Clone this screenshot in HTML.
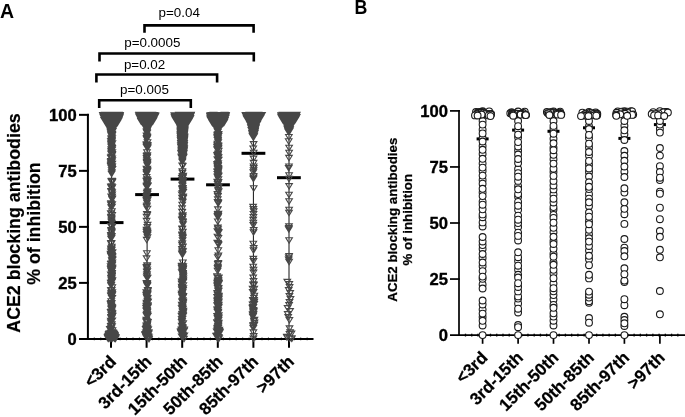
<!DOCTYPE html>
<html><head><meta charset="utf-8"><style>
html,body{margin:0;padding:0;background:#fff;width:685px;height:417px;overflow:hidden}
svg{display:block}
text{font-family:"Liberation Sans",sans-serif}
svg{will-change:transform}
</style></head><body>
<svg width="685" height="417" viewBox="0 0 685 417">
<rect width="685" height="417" fill="#fff"/>
<text x="0" y="17.8" font-size="19.5" font-weight="bold">A</text>
<text transform="translate(354.5 14.2) scale(0.9 1)" font-size="19.8" font-weight="bold">B</text>
<g fill="none" stroke="#000" stroke-width="2.6" stroke-linejoin="miter" stroke-linecap="butt">
<path d="M144.5 32.7V25.4H253.6V32.7"/>
<path d="M99.5 61.6V53.5H253.8V61.6"/>
<path d="M96.4 82.4V74.5H217.1V82.4"/>
<path d="M99.2 107.9V100.3H190.8V107.9"/>
</g>
<g font-size="13.4">
<text x="158.5" y="17">p=0.04</text>
<text x="124.2" y="46.6">p=0.0005</text>
<text x="123.9" y="68.6">p=0.02</text>
<text x="120.1" y="94">p=0.005</text>
</g>
<g stroke="#000" stroke-width="2">
<line x1="87.9" y1="113.85" x2="87.9" y2="339.9"/>
<line x1="79" y1="338.9" x2="313.5" y2="338.9"/>
<line x1="79" y1="282.89" x2="88.9" y2="282.89"/><line x1="79" y1="226.87" x2="88.9" y2="226.87"/><line x1="79" y1="170.86" x2="88.9" y2="170.86"/><line x1="79" y1="114.85" x2="88.9" y2="114.85"/>
<line x1="111.0" y1="338.9" x2="111.0" y2="347.8"/><line x1="146.6" y1="338.9" x2="146.6" y2="347.8"/><line x1="182.2" y1="338.9" x2="182.2" y2="347.8"/><line x1="217.8" y1="338.9" x2="217.8" y2="347.8"/><line x1="253.4" y1="338.9" x2="253.4" y2="347.8"/><line x1="289.0" y1="338.9" x2="289.0" y2="347.8"/>
</g>
<g font-size="16.6" font-weight="bold" stroke="#000" stroke-width="0.35" text-anchor="end">
<text x="76.8" y="345.4">0</text><text x="76.8" y="289.4">25</text><text x="76.8" y="233.4">50</text><text x="76.8" y="177.4">75</text><text x="76.8" y="121.3">100</text>
</g>
<g font-size="17.8" font-weight="bold" stroke="#000" stroke-width="0.2" text-anchor="middle">
<text transform="translate(20.3 223) rotate(-90)">ACE2 blocking antibodies</text>
<text transform="translate(40.3 223.6) rotate(-90)">% of inhibition</text>
</g>
<g font-size="17" font-weight="bold" stroke="#000" stroke-width="0.25" text-anchor="end">
<text transform="translate(117.0 362.6) rotate(-45)">&lt;3rd</text><text transform="translate(152.6 362.6) rotate(-45)">3rd-15th</text><text transform="translate(188.2 362.6) rotate(-45)">15th-50th</text><text transform="translate(223.8 362.6) rotate(-45)">50th-85th</text><text transform="translate(259.4 362.6) rotate(-45)">85th-97th</text><text transform="translate(295.0 362.6) rotate(-45)">&gt;97th</text>
</g>
<g stroke="#000" stroke-width="1.7">
<line x1="459" y1="110.05" x2="459" y2="335.9"/>
<line x1="450" y1="335.1" x2="685" y2="335.1"/>
<line x1="450" y1="279.05" x2="459.8" y2="279.05"/><line x1="450" y1="223.00" x2="459.8" y2="223.00"/><line x1="450" y1="166.95" x2="459.8" y2="166.95"/><line x1="450" y1="110.90" x2="459.8" y2="110.90"/>
<line x1="482.6" y1="335.1" x2="482.6" y2="343.8"/><line x1="518.1" y1="335.1" x2="518.1" y2="343.8"/><line x1="553.5" y1="335.1" x2="553.5" y2="343.8"/><line x1="589.0" y1="335.1" x2="589.0" y2="343.8"/><line x1="624.4" y1="335.1" x2="624.4" y2="343.8"/><line x1="659.9" y1="335.1" x2="659.9" y2="343.8"/>
</g>
<g font-size="16.6" font-weight="bold" stroke="#000" stroke-width="0.35" text-anchor="end">
<text x="447.9" y="341.4">0</text><text x="447.9" y="285.4">25</text><text x="447.9" y="229.3">50</text><text x="447.9" y="173.3">75</text><text x="447.9" y="117.2">100</text>
</g>
<g font-size="13.3" font-weight="bold" stroke="#000" stroke-width="0.25" text-anchor="middle">
<text transform="translate(397.3 219.7) rotate(-90)">ACE2 blocking antibodies</text>
<text transform="translate(412.3 219.7) rotate(-90)">% of inhibition</text>
</g>
<g font-size="17" font-weight="bold" stroke="#000" stroke-width="0.25" text-anchor="end">
<text transform="translate(488.6 358.6) rotate(-45)">&lt;3rd</text><text transform="translate(524.1 358.6) rotate(-45)">3rd-15th</text><text transform="translate(559.5 358.6) rotate(-45)">15th-50th</text><text transform="translate(595.0 358.6) rotate(-45)">50th-85th</text><text transform="translate(630.4 358.6) rotate(-45)">85th-97th</text><text transform="translate(665.9 358.6) rotate(-45)">&gt;97th</text>
</g>
<g fill="#000">
<rect x="93.75" y="337.60" width="1.1" height="2.6"/><rect x="100.20" y="337.60" width="1.1" height="2.6"/><rect x="106.65" y="337.60" width="1.1" height="2.6"/><rect x="113.10" y="337.60" width="1.1" height="2.6"/><rect x="119.55" y="337.60" width="1.1" height="2.6"/><rect x="126.00" y="337.60" width="1.1" height="2.6"/><rect x="132.45" y="337.60" width="1.1" height="2.6"/><rect x="138.90" y="337.60" width="1.1" height="2.6"/><rect x="145.35" y="337.60" width="1.1" height="2.6"/><rect x="151.80" y="337.60" width="1.1" height="2.6"/><rect x="158.25" y="337.60" width="1.1" height="2.6"/><rect x="164.70" y="337.60" width="1.1" height="2.6"/><rect x="171.15" y="337.60" width="1.1" height="2.6"/><rect x="177.60" y="337.60" width="1.1" height="2.6"/><rect x="184.05" y="337.60" width="1.1" height="2.6"/><rect x="190.50" y="337.60" width="1.1" height="2.6"/><rect x="196.95" y="337.60" width="1.1" height="2.6"/><rect x="203.40" y="337.60" width="1.1" height="2.6"/><rect x="209.85" y="337.60" width="1.1" height="2.6"/><rect x="216.30" y="337.60" width="1.1" height="2.6"/><rect x="222.75" y="337.60" width="1.1" height="2.6"/><rect x="229.20" y="337.60" width="1.1" height="2.6"/><rect x="235.65" y="337.60" width="1.1" height="2.6"/><rect x="242.10" y="337.60" width="1.1" height="2.6"/><rect x="248.55" y="337.60" width="1.1" height="2.6"/><rect x="255.00" y="337.60" width="1.1" height="2.6"/><rect x="261.45" y="337.60" width="1.1" height="2.6"/><rect x="267.90" y="337.60" width="1.1" height="2.6"/><rect x="274.35" y="337.60" width="1.1" height="2.6"/><rect x="280.80" y="337.60" width="1.1" height="2.6"/><rect x="287.25" y="337.60" width="1.1" height="2.6"/><rect x="293.70" y="337.60" width="1.1" height="2.6"/><rect x="300.15" y="337.60" width="1.1" height="2.6"/><rect x="306.60" y="337.60" width="1.1" height="2.6"/>
<rect x="464.85" y="333.70" width="1.3" height="2.8"/><rect x="471.10" y="333.70" width="1.3" height="2.8"/><rect x="477.34" y="333.70" width="1.3" height="2.8"/><rect x="483.59" y="333.70" width="1.3" height="2.8"/><rect x="489.83" y="333.70" width="1.3" height="2.8"/><rect x="496.08" y="333.70" width="1.3" height="2.8"/><rect x="502.32" y="333.70" width="1.3" height="2.8"/><rect x="508.57" y="333.70" width="1.3" height="2.8"/><rect x="514.81" y="333.70" width="1.3" height="2.8"/><rect x="521.06" y="333.70" width="1.3" height="2.8"/><rect x="527.30" y="333.70" width="1.3" height="2.8"/><rect x="533.55" y="333.70" width="1.3" height="2.8"/><rect x="539.79" y="333.70" width="1.3" height="2.8"/><rect x="546.03" y="333.70" width="1.3" height="2.8"/><rect x="552.28" y="333.70" width="1.3" height="2.8"/><rect x="558.52" y="333.70" width="1.3" height="2.8"/><rect x="564.77" y="333.70" width="1.3" height="2.8"/><rect x="571.01" y="333.70" width="1.3" height="2.8"/><rect x="577.26" y="333.70" width="1.3" height="2.8"/><rect x="583.50" y="333.70" width="1.3" height="2.8"/><rect x="589.75" y="333.70" width="1.3" height="2.8"/><rect x="596.00" y="333.70" width="1.3" height="2.8"/><rect x="602.24" y="333.70" width="1.3" height="2.8"/><rect x="608.49" y="333.70" width="1.3" height="2.8"/><rect x="614.73" y="333.70" width="1.3" height="2.8"/><rect x="620.98" y="333.70" width="1.3" height="2.8"/><rect x="627.22" y="333.70" width="1.3" height="2.8"/><rect x="633.47" y="333.70" width="1.3" height="2.8"/><rect x="639.71" y="333.70" width="1.3" height="2.8"/><rect x="645.96" y="333.70" width="1.3" height="2.8"/><rect x="652.20" y="333.70" width="1.3" height="2.8"/><rect x="658.45" y="333.70" width="1.3" height="2.8"/><rect x="664.69" y="333.70" width="1.3" height="2.8"/><rect x="670.94" y="333.70" width="1.3" height="2.8"/><rect x="677.18" y="333.70" width="1.3" height="2.8"/>
</g>
<rect x="99.70" y="221.1" width="23.8" height="3" fill="#000"/>
<line x1="111.6" y1="114.7" x2="111.6" y2="338.8" stroke="#111" stroke-width="1"/>
<path d="M107.7 211.2h6.6l-3.3 5.4zM103.6 119.5h6.6l-3.3 5.4zM111.7 114.4h6.6l-3.3 5.4zM111.8 115.1h6.6l-3.3 5.4zM107.6 202.0h6.6l-3.3 5.4zM111.2 123.5h6.6l-3.3 5.4zM110.8 121.2h6.6l-3.3 5.4zM108.6 310.3h6.6l-3.3 5.4zM109.1 313.0h6.6l-3.3 5.4zM110.1 332.4h6.6l-3.3 5.4zM108.1 128.1h6.6l-3.3 5.4zM107.6 249.0h6.6l-3.3 5.4zM103.4 115.8h6.6l-3.3 5.4zM105.5 331.5h6.6l-3.3 5.4zM103.4 115.4h6.6l-3.3 5.4zM108.4 291.7h6.6l-3.3 5.4zM108.4 267.2h6.6l-3.3 5.4zM100.7 115.8h6.6l-3.3 5.4zM108.0 194.1h6.6l-3.3 5.4zM107.5 155.2h6.6l-3.3 5.4zM107.9 261.1h6.6l-3.3 5.4zM107.5 160.1h6.6l-3.3 5.4zM109.0 289.9h6.6l-3.3 5.4zM107.8 283.0h6.6l-3.3 5.4zM105.9 113.8h6.6l-3.3 5.4zM109.0 318.1h6.6l-3.3 5.4zM109.2 313.5h6.6l-3.3 5.4zM104.9 114.0h6.6l-3.3 5.4zM108.4 178.8h6.6l-3.3 5.4zM106.5 122.3h6.6l-3.3 5.4zM108.5 295.5h6.6l-3.3 5.4zM110.6 125.2h6.6l-3.3 5.4zM108.9 192.1h6.6l-3.3 5.4zM108.4 165.7h6.6l-3.3 5.4zM102.7 112.8h6.6l-3.3 5.4zM108.5 272.2h6.6l-3.3 5.4zM108.6 272.3h6.6l-3.3 5.4zM106.4 124.0h6.6l-3.3 5.4zM108.0 312.4h6.6l-3.3 5.4zM107.9 282.2h6.6l-3.3 5.4zM108.0 141.6h6.6l-3.3 5.4zM108.3 150.7h6.6l-3.3 5.4zM108.3 329.9h6.6l-3.3 5.4zM109.0 267.1h6.6l-3.3 5.4zM108.2 252.8h6.6l-3.3 5.4zM107.3 128.4h6.6l-3.3 5.4zM107.8 291.1h6.6l-3.3 5.4zM109.0 256.4h6.6l-3.3 5.4zM116.1 115.1h6.6l-3.3 5.4zM109.2 113.1h6.6l-3.3 5.4zM116.6 113.8h6.6l-3.3 5.4zM103.5 121.5h6.6l-3.3 5.4zM107.6 120.0h6.6l-3.3 5.4zM107.8 215.1h6.6l-3.3 5.4zM108.6 307.4h6.6l-3.3 5.4zM108.5 116.6h6.6l-3.3 5.4zM108.2 275.7h6.6l-3.3 5.4zM115.2 113.7h6.6l-3.3 5.4zM107.0 116.6h6.6l-3.3 5.4zM108.6 273.5h6.6l-3.3 5.4zM100.1 114.4h6.6l-3.3 5.4zM107.9 325.7h6.6l-3.3 5.4zM108.3 287.6h6.6l-3.3 5.4zM108.7 114.6h6.6l-3.3 5.4zM107.6 184.2h6.6l-3.3 5.4zM107.4 263.7h6.6l-3.3 5.4zM107.4 252.1h6.6l-3.3 5.4zM108.3 147.1h6.6l-3.3 5.4zM106.4 126.4h6.6l-3.3 5.4zM108.1 129.3h6.6l-3.3 5.4zM111.3 116.6h6.6l-3.3 5.4zM107.8 315.0h6.6l-3.3 5.4zM108.2 249.8h6.6l-3.3 5.4zM108.8 145.8h6.6l-3.3 5.4zM109.0 332.0h6.6l-3.3 5.4zM107.5 336.3h6.6l-3.3 5.4zM101.4 113.4h6.6l-3.3 5.4zM106.9 121.7h6.6l-3.3 5.4zM115.4 117.6h6.6l-3.3 5.4zM109.8 126.6h6.6l-3.3 5.4zM108.0 141.9h6.6l-3.3 5.4zM109.7 115.1h6.6l-3.3 5.4zM109.0 284.7h6.6l-3.3 5.4zM110.9 120.5h6.6l-3.3 5.4zM108.5 274.2h6.6l-3.3 5.4zM108.2 304.4h6.6l-3.3 5.4zM110.7 118.3h6.6l-3.3 5.4zM107.8 164.0h6.6l-3.3 5.4zM108.1 119.8h6.6l-3.3 5.4zM107.9 309.6h6.6l-3.3 5.4zM108.9 289.9h6.6l-3.3 5.4zM108.7 279.4h6.6l-3.3 5.4zM107.8 268.3h6.6l-3.3 5.4zM106.3 125.7h6.6l-3.3 5.4zM108.9 132.5h6.6l-3.3 5.4zM108.1 154.6h6.6l-3.3 5.4zM108.5 274.3h6.6l-3.3 5.4zM108.5 313.0h6.6l-3.3 5.4zM109.3 126.0h6.6l-3.3 5.4zM111.6 333.5h6.6l-3.3 5.4zM116.0 115.8h6.6l-3.3 5.4zM107.8 323.3h6.6l-3.3 5.4zM108.7 114.2h6.6l-3.3 5.4zM110.7 333.6h6.6l-3.3 5.4zM107.7 163.7h6.6l-3.3 5.4zM108.5 244.2h6.6l-3.3 5.4zM108.4 167.7h6.6l-3.3 5.4zM108.4 229.2h6.6l-3.3 5.4zM108.6 178.2h6.6l-3.3 5.4zM113.1 114.0h6.6l-3.3 5.4zM102.8 119.6h6.6l-3.3 5.4zM108.4 273.0h6.6l-3.3 5.4zM107.6 232.6h6.6l-3.3 5.4zM109.6 121.6h6.6l-3.3 5.4zM108.8 196.9h6.6l-3.3 5.4zM108.8 151.6h6.6l-3.3 5.4zM108.2 275.9h6.6l-3.3 5.4zM105.7 113.5h6.6l-3.3 5.4zM109.8 330.0h6.6l-3.3 5.4zM108.3 147.6h6.6l-3.3 5.4zM102.3 115.9h6.6l-3.3 5.4zM111.0 124.3h6.6l-3.3 5.4zM109.0 161.2h6.6l-3.3 5.4zM104.9 115.3h6.6l-3.3 5.4zM108.9 212.5h6.6l-3.3 5.4zM109.0 254.5h6.6l-3.3 5.4zM108.0 146.7h6.6l-3.3 5.4zM114.7 116.3h6.6l-3.3 5.4zM109.0 166.9h6.6l-3.3 5.4zM107.6 127.9h6.6l-3.3 5.4zM112.1 120.5h6.6l-3.3 5.4zM108.7 131.2h6.6l-3.3 5.4zM105.1 119.7h6.6l-3.3 5.4zM107.6 117.9h6.6l-3.3 5.4zM101.7 114.1h6.6l-3.3 5.4zM107.9 140.9h6.6l-3.3 5.4zM107.9 159.4h6.6l-3.3 5.4zM103.9 122.4h6.6l-3.3 5.4zM107.8 236.4h6.6l-3.3 5.4zM108.0 266.0h6.6l-3.3 5.4zM108.3 171.2h6.6l-3.3 5.4zM106.6 116.1h6.6l-3.3 5.4zM107.5 266.7h6.6l-3.3 5.4zM108.8 270.8h6.6l-3.3 5.4zM107.8 202.4h6.6l-3.3 5.4zM109.0 120.7h6.6l-3.3 5.4zM106.1 330.7h6.6l-3.3 5.4zM105.5 116.9h6.6l-3.3 5.4zM107.8 155.7h6.6l-3.3 5.4zM107.8 148.9h6.6l-3.3 5.4zM113.5 120.9h6.6l-3.3 5.4zM107.7 200.9h6.6l-3.3 5.4zM107.8 121.2h6.6l-3.3 5.4zM114.0 116.8h6.6l-3.3 5.4zM108.7 120.2h6.6l-3.3 5.4zM99.6 112.5h6.6l-3.3 5.4zM108.3 117.2h6.6l-3.3 5.4zM107.7 130.4h6.6l-3.3 5.4zM109.1 253.6h6.6l-3.3 5.4zM108.2 316.0h6.6l-3.3 5.4zM106.9 119.4h6.6l-3.3 5.4zM107.9 154.4h6.6l-3.3 5.4zM104.1 117.5h6.6l-3.3 5.4zM104.1 112.3h6.6l-3.3 5.4zM109.0 249.7h6.6l-3.3 5.4zM108.1 306.6h6.6l-3.3 5.4zM108.4 125.7h6.6l-3.3 5.4zM108.3 277.8h6.6l-3.3 5.4zM107.5 333.9h6.6l-3.3 5.4zM107.5 125.2h6.6l-3.3 5.4zM106.1 333.9h6.6l-3.3 5.4zM109.9 119.1h6.6l-3.3 5.4zM108.9 151.7h6.6l-3.3 5.4zM105.4 121.5h6.6l-3.3 5.4zM106.5 114.9h6.6l-3.3 5.4zM108.2 115.8h6.6l-3.3 5.4zM108.6 131.8h6.6l-3.3 5.4zM108.1 252.6h6.6l-3.3 5.4zM110.5 113.7h6.6l-3.3 5.4zM107.8 253.9h6.6l-3.3 5.4zM104.0 120.1h6.6l-3.3 5.4zM110.7 334.5h6.6l-3.3 5.4zM107.8 227.6h6.6l-3.3 5.4zM102.8 120.0h6.6l-3.3 5.4zM108.5 233.5h6.6l-3.3 5.4zM107.5 251.4h6.6l-3.3 5.4zM107.6 123.9h6.6l-3.3 5.4zM108.3 290.3h6.6l-3.3 5.4zM107.7 161.8h6.6l-3.3 5.4zM106.7 332.3h6.6l-3.3 5.4zM102.1 116.7h6.6l-3.3 5.4zM108.4 293.7h6.6l-3.3 5.4zM113.9 112.6h6.6l-3.3 5.4zM109.0 178.6h6.6l-3.3 5.4zM108.9 224.3h6.6l-3.3 5.4zM108.8 194.3h6.6l-3.3 5.4zM106.4 112.6h6.6l-3.3 5.4zM100.0 113.3h6.6l-3.3 5.4zM108.0 314.6h6.6l-3.3 5.4zM107.8 302.3h6.6l-3.3 5.4zM110.8 335.6h6.6l-3.3 5.4zM108.3 118.6h6.6l-3.3 5.4zM108.8 145.5h6.6l-3.3 5.4zM112.1 336.2h6.6l-3.3 5.4zM108.4 144.9h6.6l-3.3 5.4zM107.7 210.7h6.6l-3.3 5.4zM108.4 292.9h6.6l-3.3 5.4zM110.0 122.6h6.6l-3.3 5.4zM107.3 129.4h6.6l-3.3 5.4zM108.3 264.9h6.6l-3.3 5.4zM108.4 122.4h6.6l-3.3 5.4zM108.7 149.9h6.6l-3.3 5.4zM112.3 121.0h6.6l-3.3 5.4zM107.9 330.7h6.6l-3.3 5.4zM108.6 123.5h6.6l-3.3 5.4zM107.5 301.9h6.6l-3.3 5.4zM108.4 127.0h6.6l-3.3 5.4zM108.6 305.2h6.6l-3.3 5.4zM107.6 211.1h6.6l-3.3 5.4zM108.2 217.4h6.6l-3.3 5.4zM101.4 117.9h6.6l-3.3 5.4zM107.9 288.0h6.6l-3.3 5.4zM107.0 333.2h6.6l-3.3 5.4zM108.5 152.2h6.6l-3.3 5.4zM111.4 117.5h6.6l-3.3 5.4zM109.0 123.2h6.6l-3.3 5.4zM107.4 331.6h6.6l-3.3 5.4zM110.3 112.7h6.6l-3.3 5.4zM107.5 163.4h6.6l-3.3 5.4zM108.9 201.9h6.6l-3.3 5.4zM108.5 258.0h6.6l-3.3 5.4zM109.1 257.5h6.6l-3.3 5.4zM103.6 114.9h6.6l-3.3 5.4zM108.4 268.6h6.6l-3.3 5.4zM107.9 151.3h6.6l-3.3 5.4zM109.0 157.9h6.6l-3.3 5.4zM107.4 309.8h6.6l-3.3 5.4zM107.8 211.3h6.6l-3.3 5.4zM109.1 260.0h6.6l-3.3 5.4zM108.0 188.6h6.6l-3.3 5.4zM102.0 118.8h6.6l-3.3 5.4zM114.1 115.6h6.6l-3.3 5.4zM108.3 235.4h6.6l-3.3 5.4zM108.5 321.9h6.6l-3.3 5.4zM109.1 277.9h6.6l-3.3 5.4zM107.5 113.0h6.6l-3.3 5.4zM108.1 309.1h6.6l-3.3 5.4zM108.6 304.8h6.6l-3.3 5.4zM104.7 123.8h6.6l-3.3 5.4zM108.3 300.6h6.6l-3.3 5.4zM108.5 136.5h6.6l-3.3 5.4zM109.1 118.3h6.6l-3.3 5.4zM107.0 115.6h6.6l-3.3 5.4zM108.3 279.2h6.6l-3.3 5.4zM108.0 135.7h6.6l-3.3 5.4zM112.7 118.8h6.6l-3.3 5.4zM107.9 303.2h6.6l-3.3 5.4zM107.8 215.4h6.6l-3.3 5.4zM110.9 113.1h6.6l-3.3 5.4zM109.8 124.2h6.6l-3.3 5.4zM107.7 335.6h6.6l-3.3 5.4zM108.2 136.9h6.6l-3.3 5.4zM115.4 113.4h6.6l-3.3 5.4zM108.0 247.7h6.6l-3.3 5.4zM109.1 140.9h6.6l-3.3 5.4zM101.2 116.9h6.6l-3.3 5.4zM112.9 121.5h6.6l-3.3 5.4zM114.1 120.2h6.6l-3.3 5.4zM108.4 186.0h6.6l-3.3 5.4zM107.6 241.1h6.6l-3.3 5.4zM110.0 119.5h6.6l-3.3 5.4zM108.0 126.0h6.6l-3.3 5.4zM107.6 320.1h6.6l-3.3 5.4zM114.4 114.9h6.6l-3.3 5.4zM113.4 113.2h6.6l-3.3 5.4zM112.4 335.3h6.6l-3.3 5.4zM108.5 270.5h6.6l-3.3 5.4zM108.2 277.0h6.6l-3.3 5.4zM109.2 250.1h6.6l-3.3 5.4zM108.1 228.5h6.6l-3.3 5.4zM107.6 293.2h6.6l-3.3 5.4zM110.2 330.6h6.6l-3.3 5.4zM111.7 115.8h6.6l-3.3 5.4zM106.6 326.9h6.6l-3.3 5.4zM115.6 116.9h6.6l-3.3 5.4zM108.3 240.7h6.6l-3.3 5.4zM108.9 196.1h6.6l-3.3 5.4zM112.8 116.8h6.6l-3.3 5.4zM109.1 292.0h6.6l-3.3 5.4zM107.5 163.2h6.6l-3.3 5.4zM106.9 124.7h6.6l-3.3 5.4zM106.3 118.1h6.6l-3.3 5.4zM107.4 127.0h6.6l-3.3 5.4zM105.2 117.7h6.6l-3.3 5.4zM108.2 301.1h6.6l-3.3 5.4zM107.0 326.8h6.6l-3.3 5.4zM110.3 123.6h6.6l-3.3 5.4zM108.0 261.4h6.6l-3.3 5.4zM105.8 124.9h6.6l-3.3 5.4zM107.5 318.3h6.6l-3.3 5.4zM108.8 147.3h6.6l-3.3 5.4zM108.0 275.4h6.6l-3.3 5.4zM104.4 334.6h6.6l-3.3 5.4zM113.1 119.3h6.6l-3.3 5.4zM101.5 112.3h6.6l-3.3 5.4zM108.5 128.4h6.6l-3.3 5.4zM108.7 253.6h6.6l-3.3 5.4zM107.6 138.8h6.6l-3.3 5.4zM113.3 118.4h6.6l-3.3 5.4zM112.7 114.6h6.6l-3.3 5.4zM109.2 333.5h6.6l-3.3 5.4zM109.0 295.6h6.6l-3.3 5.4zM105.9 120.4h6.6l-3.3 5.4zM107.7 325.9h6.6l-3.3 5.4zM108.3 245.9h6.6l-3.3 5.4zM108.6 250.0h6.6l-3.3 5.4zM104.6 335.1h6.6l-3.3 5.4zM108.5 141.5h6.6l-3.3 5.4zM111.4 122.5h6.6l-3.3 5.4zM105.9 334.4h6.6l-3.3 5.4zM104.8 118.9h6.6l-3.3 5.4zM104.5 123.0h6.6l-3.3 5.4zM108.6 330.5h6.6l-3.3 5.4zM112.1 122.8h6.6l-3.3 5.4zM109.0 184.8h6.6l-3.3 5.4zM108.6 138.8h6.6l-3.3 5.4zM103.5 116.9h6.6l-3.3 5.4zM107.7 331.5h6.6l-3.3 5.4zM107.7 246.3h6.6l-3.3 5.4zM105.8 121.0h6.6l-3.3 5.4zM107.8 275.5h6.6l-3.3 5.4zM108.1 143.1h6.6l-3.3 5.4zM109.5 117.6h6.6l-3.3 5.4zM111.6 332.8h6.6l-3.3 5.4zM107.4 112.6h6.6l-3.3 5.4zM108.8 262.7h6.6l-3.3 5.4zM108.2 332.0h6.6l-3.3 5.4zM108.6 291.3h6.6l-3.3 5.4zM106.5 117.3h6.6l-3.3 5.4zM100.0 114.2h6.6l-3.3 5.4zM101.8 114.8h6.6l-3.3 5.4zM108.1 219.0h6.6l-3.3 5.4zM107.7 327.2h6.6l-3.3 5.4zM100.9 117.6h6.6l-3.3 5.4zM108.3 312.6h6.6l-3.3 5.4zM108.9 179.8h6.6l-3.3 5.4zM107.4 122.8h6.6l-3.3 5.4zM102.5 117.5h6.6l-3.3 5.4zM109.3 125.4h6.6l-3.3 5.4zM108.0 165.3h6.6l-3.3 5.4zM108.1 185.2h6.6l-3.3 5.4zM109.5 128.5h6.6l-3.3 5.4zM108.0 144.4h6.6l-3.3 5.4zM108.3 183.7h6.6l-3.3 5.4zM108.6 134.4h6.6l-3.3 5.4zM111.0 332.2h6.6l-3.3 5.4zM106.8 331.6h6.6l-3.3 5.4zM111.2 118.6h6.6l-3.3 5.4zM115.6 112.4h6.6l-3.3 5.4zM112.3 112.6h6.6l-3.3 5.4zM109.3 334.4h6.6l-3.3 5.4zM108.5 247.3h6.6l-3.3 5.4zM108.4 287.5h6.6l-3.3 5.4zM112.7 115.3h6.6l-3.3 5.4zM107.5 323.9h6.6l-3.3 5.4zM109.2 112.4h6.6l-3.3 5.4zM109.0 149.9h6.6l-3.3 5.4zM108.2 124.3h6.6l-3.3 5.4zM107.9 240.5h6.6l-3.3 5.4zM110.5 123.0h6.6l-3.3 5.4zM109.0 127.7h6.6l-3.3 5.4zM108.0 128.6h6.6l-3.3 5.4zM112.4 122.4h6.6l-3.3 5.4zM111.1 121.9h6.6l-3.3 5.4zM107.9 214.2h6.6l-3.3 5.4zM108.0 291.4h6.6l-3.3 5.4zM109.2 327.7h6.6l-3.3 5.4zM108.5 169.9h6.6l-3.3 5.4zM116.4 114.7h6.6l-3.3 5.4zM108.6 166.0h6.6l-3.3 5.4zM107.9 158.9h6.6l-3.3 5.4zM107.6 287.9h6.6l-3.3 5.4zM107.9 204.7h6.6l-3.3 5.4zM108.3 230.2h6.6l-3.3 5.4zM104.5 113.1h6.6l-3.3 5.4zM100.7 115.5h6.6l-3.3 5.4zM102.8 113.7h6.6l-3.3 5.4zM112.3 334.6h6.6l-3.3 5.4zM108.9 135.9h6.6l-3.3 5.4zM108.6 169.7h6.6l-3.3 5.4zM108.8 129.3h6.6l-3.3 5.4zM104.9 114.5h6.6l-3.3 5.4zM108.2 139.7h6.6l-3.3 5.4zM106.7 326.6h6.6l-3.3 5.4zM108.6 137.6h6.6l-3.3 5.4zM104.7 118.2h6.6l-3.3 5.4zM105.3 116.1h6.6l-3.3 5.4zM107.8 334.5h6.6l-3.3 5.4zM108.8 152.8h6.6l-3.3 5.4zM115.0 117.9h6.6l-3.3 5.4zM108.7 331.3h6.6l-3.3 5.4zM108.4 275.5h6.6l-3.3 5.4zM109.5 116.7h6.6l-3.3 5.4zM108.5 315.2h6.6l-3.3 5.4zM108.8 335.1h6.6l-3.3 5.4zM108.3 141.1h6.6l-3.3 5.4zM112.1 118.4h6.6l-3.3 5.4zM103.3 118.3h6.6l-3.3 5.4zM108.8 266.7h6.6l-3.3 5.4zM107.9 306.3h6.6l-3.3 5.4zM112.2 113.8h6.6l-3.3 5.4zM108.2 189.6h6.6l-3.3 5.4zM108.8 323.7h6.6l-3.3 5.4zM110.1 333.0h6.6l-3.3 5.4zM103.4 113.0h6.6l-3.3 5.4zM108.5 333.1h6.6l-3.3 5.4zM108.5 115.1h6.6l-3.3 5.4zM108.0 178.8h6.6l-3.3 5.4zM108.6 265.5h6.6l-3.3 5.4zM104.7 333.9h6.6l-3.3 5.4zM107.9 132.7h6.6l-3.3 5.4zM111.7 113.1h6.6l-3.3 5.4zM107.6 280.3h6.6l-3.3 5.4zM107.7 330.2h6.6l-3.3 5.4zM107.6 223.6h6.6l-3.3 5.4zM109.2 265.2h6.6l-3.3 5.4zM107.6 265.8h6.6l-3.3 5.4zM108.1 318.5h6.6l-3.3 5.4zM107.5 272.0h6.6l-3.3 5.4zM113.9 119.5h6.6l-3.3 5.4zM105.5 122.1h6.6l-3.3 5.4zM108.5 313.4h6.6l-3.3 5.4zM107.5 300.7h6.6l-3.3 5.4zM111.0 336.0h6.6l-3.3 5.4zM103.5 120.9h6.6l-3.3 5.4zM107.8 189.0h6.6l-3.3 5.4zM109.7 116.0h6.6l-3.3 5.4zM107.2 113.8h6.6l-3.3 5.4zM107.9 292.9h6.6l-3.3 5.4zM109.8 114.5h6.6l-3.3 5.4zM109.1 306.1h6.6l-3.3 5.4zM108.0 298.7h6.6l-3.3 5.4zM107.6 280.6h6.6l-3.3 5.4zM104.4 121.0h6.6l-3.3 5.4zM108.4 305.8h6.6l-3.3 5.4zM108.8 190.0h6.6l-3.3 5.4zM107.9 331.0h6.6l-3.3 5.4zM111.2 119.7h6.6l-3.3 5.4zM108.5 268.6h6.6l-3.3 5.4zM108.4 216.0h6.6l-3.3 5.4zM108.6 208.8h6.6l-3.3 5.4zM115.0 118.6h6.6l-3.3 5.4zM108.4 159.8h6.6l-3.3 5.4zM106.2 335.3h6.6l-3.3 5.4zM108.9 163.7h6.6l-3.3 5.4zM108.7 164.6h6.6l-3.3 5.4zM108.6 252.6h6.6l-3.3 5.4zM109.2 127.4h6.6l-3.3 5.4zM109.2 311.0h6.6l-3.3 5.4zM108.9 156.0h6.6l-3.3 5.4zM109.1 256.6h6.6l-3.3 5.4zM104.6 335.9h6.6l-3.3 5.4zM116.7 112.5h6.6l-3.3 5.4zM103.5 119.1h6.6l-3.3 5.4zM105.6 336.2h6.6l-3.3 5.4zM108.9 329.9h6.6l-3.3 5.4zM105.7 332.0h6.6l-3.3 5.4zM107.8 331.5h6.6l-3.3 5.4zM106.6 118.9h6.6l-3.3 5.4zM105.4 332.8h6.6l-3.3 5.4zM107.7 253.3h6.6l-3.3 5.4zM108.0 263.7h6.6l-3.3 5.4zM109.1 166.5h6.6l-3.3 5.4zM109.1 132.4h6.6l-3.3 5.4zM108.2 126.7h6.6l-3.3 5.4zM107.6 261.5h6.6l-3.3 5.4zM112.5 116.1h6.6l-3.3 5.4zM108.8 304.7h6.6l-3.3 5.4zM108.7 204.2h6.6l-3.3 5.4zM108.2 138.4h6.6l-3.3 5.4zM107.9 280.4h6.6l-3.3 5.4zM110.6 125.6h6.6l-3.3 5.4zM108.3 121.9h6.6l-3.3 5.4zM107.9 303.4h6.6l-3.3 5.4zM110.7 331.5h6.6l-3.3 5.4zM108.1 287.7h6.6l-3.3 5.4zM107.9 234.4h6.6l-3.3 5.4zM113.9 117.5h6.6l-3.3 5.4zM108.9 336.1h6.6l-3.3 5.4zM105.4 124.4h6.6l-3.3 5.4zM107.8 162.8h6.6l-3.3 5.4zM102.3 115.6h6.6l-3.3 5.4zM108.0 265.1h6.6l-3.3 5.4zM113.0 117.6h6.6l-3.3 5.4zM108.1 155.7h6.6l-3.3 5.4zM108.6 220.3h6.6l-3.3 5.4zM107.6 301.5h6.6l-3.3 5.4zM107.9 194.1h6.6l-3.3 5.4zM108.1 291.1h6.6l-3.3 5.4zM105.7 123.2h6.6l-3.3 5.4zM108.8 261.7h6.6l-3.3 5.4zM116.4 113.0h6.6l-3.3 5.4zM107.6 158.5h6.6l-3.3 5.4zM108.6 223.6h6.6l-3.3 5.4zM107.6 131.3h6.6l-3.3 5.4zM107.8 234.0h6.6l-3.3 5.4z" fill="none" stroke="#474747" stroke-width="1.1"/>
<rect x="135.16" y="193.1" width="23.8" height="3" fill="#000"/>
<line x1="147.1" y1="114.8" x2="147.1" y2="339.0" stroke="#111" stroke-width="1"/>
<path d="M143.3 308.1h6.6l-3.3 5.4zM150.2 113.4h6.6l-3.3 5.4zM143.9 308.8h6.6l-3.3 5.4zM143.5 144.5h6.6l-3.3 5.4zM144.2 168.0h6.6l-3.3 5.4zM143.9 154.3h6.6l-3.3 5.4zM144.2 139.7h6.6l-3.3 5.4zM146.4 112.4h6.6l-3.3 5.4zM140.3 117.2h6.6l-3.3 5.4zM143.5 129.6h6.6l-3.3 5.4zM139.8 116.5h6.6l-3.3 5.4zM143.4 304.1h6.6l-3.3 5.4zM143.3 227.2h6.6l-3.3 5.4zM144.0 152.7h6.6l-3.3 5.4zM143.9 309.9h6.6l-3.3 5.4zM143.5 124.2h6.6l-3.3 5.4zM144.2 124.9h6.6l-3.3 5.4zM143.5 125.9h6.6l-3.3 5.4zM143.3 255.9h6.6l-3.3 5.4zM143.8 264.5h6.6l-3.3 5.4zM143.9 329.8h6.6l-3.3 5.4zM144.0 268.8h6.6l-3.3 5.4zM143.4 307.7h6.6l-3.3 5.4zM146.3 116.2h6.6l-3.3 5.4zM144.1 296.3h6.6l-3.3 5.4zM143.4 179.1h6.6l-3.3 5.4zM143.2 325.8h6.6l-3.3 5.4zM143.5 269.4h6.6l-3.3 5.4zM143.3 218.4h6.6l-3.3 5.4zM143.5 275.1h6.6l-3.3 5.4zM144.3 319.6h6.6l-3.3 5.4zM143.8 114.2h6.6l-3.3 5.4zM143.2 265.1h6.6l-3.3 5.4zM144.3 275.4h6.6l-3.3 5.4zM144.3 303.1h6.6l-3.3 5.4zM144.1 118.2h6.6l-3.3 5.4zM143.4 229.2h6.6l-3.3 5.4zM143.5 280.8h6.6l-3.3 5.4zM146.2 121.9h6.6l-3.3 5.4zM139.0 113.8h6.6l-3.3 5.4zM140.3 114.0h6.6l-3.3 5.4zM143.6 273.3h6.6l-3.3 5.4zM144.2 127.2h6.6l-3.3 5.4zM142.8 113.2h6.6l-3.3 5.4zM143.2 280.5h6.6l-3.3 5.4zM143.6 130.3h6.6l-3.3 5.4zM145.7 335.0h6.6l-3.3 5.4zM143.3 122.2h6.6l-3.3 5.4zM145.0 122.6h6.6l-3.3 5.4zM145.8 113.1h6.6l-3.3 5.4zM139.8 120.3h6.6l-3.3 5.4zM144.3 295.5h6.6l-3.3 5.4zM137.4 114.5h6.6l-3.3 5.4zM143.3 264.7h6.6l-3.3 5.4zM143.7 271.8h6.6l-3.3 5.4zM143.2 308.5h6.6l-3.3 5.4zM144.2 159.2h6.6l-3.3 5.4zM140.8 120.4h6.6l-3.3 5.4zM144.6 288.3h6.6l-3.3 5.4zM143.5 312.3h6.6l-3.3 5.4zM143.5 153.4h6.6l-3.3 5.4zM143.0 119.7h6.6l-3.3 5.4zM144.6 117.4h6.6l-3.3 5.4zM138.0 115.4h6.6l-3.3 5.4zM144.3 330.6h6.6l-3.3 5.4zM143.7 134.0h6.6l-3.3 5.4zM143.4 193.8h6.6l-3.3 5.4zM142.4 123.7h6.6l-3.3 5.4zM143.7 134.3h6.6l-3.3 5.4zM143.7 178.1h6.6l-3.3 5.4zM144.0 212.4h6.6l-3.3 5.4zM141.8 332.2h6.6l-3.3 5.4zM145.0 118.1h6.6l-3.3 5.4zM142.8 334.7h6.6l-3.3 5.4zM143.7 295.2h6.6l-3.3 5.4zM143.7 228.2h6.6l-3.3 5.4zM143.7 192.4h6.6l-3.3 5.4zM144.6 116.9h6.6l-3.3 5.4zM143.7 200.4h6.6l-3.3 5.4zM144.1 161.4h6.6l-3.3 5.4zM143.7 143.7h6.6l-3.3 5.4zM143.7 196.6h6.6l-3.3 5.4zM136.2 113.8h6.6l-3.3 5.4zM145.0 124.9h6.6l-3.3 5.4zM143.3 155.8h6.6l-3.3 5.4zM146.5 113.9h6.6l-3.3 5.4zM143.2 318.9h6.6l-3.3 5.4zM145.4 331.1h6.6l-3.3 5.4zM143.6 115.4h6.6l-3.3 5.4zM144.0 134.8h6.6l-3.3 5.4zM143.6 313.9h6.6l-3.3 5.4zM144.3 142.5h6.6l-3.3 5.4zM147.7 121.1h6.6l-3.3 5.4zM143.2 166.3h6.6l-3.3 5.4zM138.6 113.2h6.6l-3.3 5.4zM144.1 169.0h6.6l-3.3 5.4zM139.0 118.4h6.6l-3.3 5.4zM148.3 118.7h6.6l-3.3 5.4zM144.2 232.2h6.6l-3.3 5.4zM142.0 118.9h6.6l-3.3 5.4zM143.5 136.7h6.6l-3.3 5.4zM140.0 112.6h6.6l-3.3 5.4zM143.6 144.3h6.6l-3.3 5.4zM143.8 121.5h6.6l-3.3 5.4zM143.9 231.3h6.6l-3.3 5.4zM143.3 204.2h6.6l-3.3 5.4zM144.1 298.3h6.6l-3.3 5.4zM141.4 117.0h6.6l-3.3 5.4zM144.1 122.9h6.6l-3.3 5.4zM144.7 299.3h6.6l-3.3 5.4zM143.9 282.8h6.6l-3.3 5.4zM138.1 115.8h6.6l-3.3 5.4zM144.9 333.8h6.6l-3.3 5.4zM139.8 115.2h6.6l-3.3 5.4zM144.4 183.3h6.6l-3.3 5.4zM143.6 160.0h6.6l-3.3 5.4zM138.4 112.4h6.6l-3.3 5.4zM144.3 122.4h6.6l-3.3 5.4zM143.0 317.4h6.6l-3.3 5.4zM144.4 329.9h6.6l-3.3 5.4zM143.3 214.4h6.6l-3.3 5.4zM148.1 114.4h6.6l-3.3 5.4zM143.5 159.2h6.6l-3.3 5.4zM143.1 116.9h6.6l-3.3 5.4zM144.2 303.7h6.6l-3.3 5.4zM148.7 117.9h6.6l-3.3 5.4zM150.5 112.5h6.6l-3.3 5.4zM144.8 326.7h6.6l-3.3 5.4zM144.6 302.9h6.6l-3.3 5.4zM149.3 115.1h6.6l-3.3 5.4zM140.5 117.9h6.6l-3.3 5.4zM143.2 117.7h6.6l-3.3 5.4zM140.8 114.7h6.6l-3.3 5.4zM144.2 191.3h6.6l-3.3 5.4zM144.3 182.8h6.6l-3.3 5.4zM144.7 123.7h6.6l-3.3 5.4zM143.0 194.8h6.6l-3.3 5.4zM144.3 290.4h6.6l-3.3 5.4zM143.5 135.6h6.6l-3.3 5.4zM143.5 144.9h6.6l-3.3 5.4zM140.9 118.7h6.6l-3.3 5.4zM143.6 311.3h6.6l-3.3 5.4zM144.3 222.4h6.6l-3.3 5.4zM148.5 120.0h6.6l-3.3 5.4zM148.9 112.3h6.6l-3.3 5.4zM143.9 292.8h6.6l-3.3 5.4zM141.6 113.4h6.6l-3.3 5.4zM146.7 118.7h6.6l-3.3 5.4zM149.6 113.8h6.6l-3.3 5.4zM148.4 117.7h6.6l-3.3 5.4zM135.6 113.0h6.6l-3.3 5.4zM137.0 113.5h6.6l-3.3 5.4zM146.2 121.0h6.6l-3.3 5.4zM141.1 115.1h6.6l-3.3 5.4zM139.8 116.2h6.6l-3.3 5.4zM144.3 196.9h6.6l-3.3 5.4zM143.3 294.2h6.6l-3.3 5.4zM147.2 113.5h6.6l-3.3 5.4zM144.1 121.2h6.6l-3.3 5.4zM143.2 319.5h6.6l-3.3 5.4zM140.3 121.2h6.6l-3.3 5.4zM136.1 114.6h6.6l-3.3 5.4zM144.2 234.9h6.6l-3.3 5.4zM144.1 312.1h6.6l-3.3 5.4zM136.5 115.3h6.6l-3.3 5.4zM143.3 231.8h6.6l-3.3 5.4zM145.0 120.4h6.6l-3.3 5.4zM146.5 118.3h6.6l-3.3 5.4zM144.1 145.0h6.6l-3.3 5.4zM144.5 287.6h6.6l-3.3 5.4zM144.8 121.6h6.6l-3.3 5.4zM145.1 124.2h6.6l-3.3 5.4zM143.6 324.0h6.6l-3.3 5.4zM144.6 113.1h6.6l-3.3 5.4zM143.8 176.9h6.6l-3.3 5.4zM143.7 307.5h6.6l-3.3 5.4zM148.9 116.0h6.6l-3.3 5.4zM144.0 162.7h6.6l-3.3 5.4zM142.9 331.6h6.6l-3.3 5.4zM144.0 283.3h6.6l-3.3 5.4zM142.6 122.8h6.6l-3.3 5.4zM149.9 118.0h6.6l-3.3 5.4zM135.9 112.4h6.6l-3.3 5.4zM143.9 114.7h6.6l-3.3 5.4zM143.1 318.5h6.6l-3.3 5.4zM141.9 122.3h6.6l-3.3 5.4zM144.8 125.6h6.6l-3.3 5.4zM143.6 157.9h6.6l-3.3 5.4zM152.1 113.3h6.6l-3.3 5.4zM146.0 117.7h6.6l-3.3 5.4zM143.6 281.7h6.6l-3.3 5.4zM144.2 325.4h6.6l-3.3 5.4zM143.6 129.0h6.6l-3.3 5.4zM137.9 119.0h6.6l-3.3 5.4zM148.0 116.0h6.6l-3.3 5.4zM144.6 313.4h6.6l-3.3 5.4zM144.1 230.5h6.6l-3.3 5.4zM143.7 155.2h6.6l-3.3 5.4zM148.7 119.5h6.6l-3.3 5.4zM139.3 114.7h6.6l-3.3 5.4zM143.9 280.7h6.6l-3.3 5.4zM146.6 115.5h6.6l-3.3 5.4zM137.3 116.8h6.6l-3.3 5.4zM139.9 118.7h6.6l-3.3 5.4zM143.3 142.7h6.6l-3.3 5.4zM141.7 116.0h6.6l-3.3 5.4zM144.2 291.8h6.6l-3.3 5.4zM142.3 113.7h6.6l-3.3 5.4zM143.5 183.1h6.6l-3.3 5.4zM137.1 112.5h6.6l-3.3 5.4zM143.4 237.4h6.6l-3.3 5.4zM143.6 203.0h6.6l-3.3 5.4zM143.3 301.3h6.6l-3.3 5.4zM137.0 116.3h6.6l-3.3 5.4zM142.9 125.2h6.6l-3.3 5.4zM144.1 322.0h6.6l-3.3 5.4zM144.1 229.4h6.6l-3.3 5.4zM151.9 112.8h6.6l-3.3 5.4zM142.9 325.2h6.6l-3.3 5.4zM143.3 171.4h6.6l-3.3 5.4zM143.3 300.4h6.6l-3.3 5.4zM144.0 231.2h6.6l-3.3 5.4zM143.8 282.3h6.6l-3.3 5.4zM140.3 113.5h6.6l-3.3 5.4zM147.5 117.3h6.6l-3.3 5.4zM142.6 125.9h6.6l-3.3 5.4zM143.7 190.5h6.6l-3.3 5.4zM137.8 114.1h6.6l-3.3 5.4zM145.3 329.7h6.6l-3.3 5.4zM145.0 334.0h6.6l-3.3 5.4zM143.9 130.4h6.6l-3.3 5.4zM144.4 178.7h6.6l-3.3 5.4zM144.0 224.6h6.6l-3.3 5.4zM143.9 135.5h6.6l-3.3 5.4zM145.0 114.6h6.6l-3.3 5.4zM141.9 117.3h6.6l-3.3 5.4zM145.4 329.9h6.6l-3.3 5.4zM143.2 178.2h6.6l-3.3 5.4zM144.1 312.1h6.6l-3.3 5.4zM143.7 292.7h6.6l-3.3 5.4zM144.5 303.7h6.6l-3.3 5.4zM143.4 170.0h6.6l-3.3 5.4zM143.7 149.7h6.6l-3.3 5.4zM143.3 133.0h6.6l-3.3 5.4zM143.7 123.7h6.6l-3.3 5.4zM147.2 112.8h6.6l-3.3 5.4zM143.1 197.3h6.6l-3.3 5.4zM148.3 114.2h6.6l-3.3 5.4zM143.8 291.5h6.6l-3.3 5.4zM151.9 113.7h6.6l-3.3 5.4zM144.0 166.2h6.6l-3.3 5.4zM143.5 119.0h6.6l-3.3 5.4zM143.6 211.6h6.6l-3.3 5.4zM137.7 117.3h6.6l-3.3 5.4zM145.2 123.0h6.6l-3.3 5.4zM144.5 304.8h6.6l-3.3 5.4zM143.7 184.2h6.6l-3.3 5.4zM151.5 114.8h6.6l-3.3 5.4zM149.1 113.0h6.6l-3.3 5.4zM143.2 141.8h6.6l-3.3 5.4zM143.5 329.4h6.6l-3.3 5.4zM144.9 113.7h6.6l-3.3 5.4zM143.0 323.1h6.6l-3.3 5.4zM142.3 121.7h6.6l-3.3 5.4zM143.1 327.9h6.6l-3.3 5.4zM143.3 198.3h6.6l-3.3 5.4zM143.9 290.6h6.6l-3.3 5.4zM142.6 124.6h6.6l-3.3 5.4zM143.5 324.2h6.6l-3.3 5.4zM144.1 125.0h6.6l-3.3 5.4zM144.0 127.5h6.6l-3.3 5.4zM144.1 145.7h6.6l-3.3 5.4zM144.6 319.7h6.6l-3.3 5.4zM143.0 303.4h6.6l-3.3 5.4zM143.5 323.7h6.6l-3.3 5.4zM143.6 160.7h6.6l-3.3 5.4zM144.1 303.3h6.6l-3.3 5.4zM143.4 153.5h6.6l-3.3 5.4zM143.9 262.9h6.6l-3.3 5.4zM144.0 319.4h6.6l-3.3 5.4zM144.2 143.4h6.6l-3.3 5.4zM143.1 120.8h6.6l-3.3 5.4zM144.7 327.2h6.6l-3.3 5.4zM140.4 119.5h6.6l-3.3 5.4zM142.6 330.0h6.6l-3.3 5.4zM144.8 115.8h6.6l-3.3 5.4zM148.5 115.6h6.6l-3.3 5.4zM141.4 112.6h6.6l-3.3 5.4zM144.4 183.6h6.6l-3.3 5.4zM144.1 206.3h6.6l-3.3 5.4zM145.7 336.5h6.6l-3.3 5.4zM144.4 300.1h6.6l-3.3 5.4zM143.2 184.0h6.6l-3.3 5.4zM143.4 144.3h6.6l-3.3 5.4zM143.5 169.6h6.6l-3.3 5.4zM144.3 144.2h6.6l-3.3 5.4zM142.1 118.1h6.6l-3.3 5.4zM143.3 128.8h6.6l-3.3 5.4zM144.6 112.5h6.6l-3.3 5.4zM147.0 120.4h6.6l-3.3 5.4zM145.5 115.4h6.6l-3.3 5.4zM143.3 174.5h6.6l-3.3 5.4zM146.4 116.9h6.6l-3.3 5.4zM150.8 115.1h6.6l-3.3 5.4zM142.1 115.6h6.6l-3.3 5.4zM142.4 326.6h6.6l-3.3 5.4zM143.0 305.2h6.6l-3.3 5.4zM145.9 119.7h6.6l-3.3 5.4zM143.9 189.7h6.6l-3.3 5.4zM142.4 114.4h6.6l-3.3 5.4zM143.0 289.8h6.6l-3.3 5.4zM144.4 188.8h6.6l-3.3 5.4zM144.0 183.7h6.6l-3.3 5.4zM143.4 308.4h6.6l-3.3 5.4zM147.5 119.8h6.6l-3.3 5.4zM142.9 292.3h6.6l-3.3 5.4zM143.4 135.9h6.6l-3.3 5.4zM143.5 319.4h6.6l-3.3 5.4zM150.6 116.0h6.6l-3.3 5.4zM143.2 312.8h6.6l-3.3 5.4zM143.2 229.4h6.6l-3.3 5.4zM143.7 126.0h6.6l-3.3 5.4zM138.6 117.2h6.6l-3.3 5.4zM141.1 121.4h6.6l-3.3 5.4zM137.6 118.2h6.6l-3.3 5.4zM143.9 267.0h6.6l-3.3 5.4zM149.2 116.9h6.6l-3.3 5.4zM143.1 116.3h6.6l-3.3 5.4zM141.5 120.7h6.6l-3.3 5.4zM150.3 117.2h6.6l-3.3 5.4zM138.7 116.8h6.6l-3.3 5.4zM143.4 303.2h6.6l-3.3 5.4zM144.0 296.1h6.6l-3.3 5.4zM143.6 323.1h6.6l-3.3 5.4zM149.6 118.9h6.6l-3.3 5.4zM143.9 181.0h6.6l-3.3 5.4zM144.2 197.9h6.6l-3.3 5.4zM144.1 124.1h6.6l-3.3 5.4zM144.5 178.2h6.6l-3.3 5.4zM142.1 120.5h6.6l-3.3 5.4zM143.6 250.8h6.6l-3.3 5.4zM147.8 117.0h6.6l-3.3 5.4zM150.1 116.5h6.6l-3.3 5.4zM145.4 118.6h6.6l-3.3 5.4zM142.1 331.6h6.6l-3.3 5.4zM144.0 120.3h6.6l-3.3 5.4zM143.0 305.7h6.6l-3.3 5.4zM144.4 119.7h6.6l-3.3 5.4zM141.8 119.5h6.6l-3.3 5.4zM143.1 112.8h6.6l-3.3 5.4zM143.8 264.3h6.6l-3.3 5.4zM143.7 167.5h6.6l-3.3 5.4zM146.5 114.9h6.6l-3.3 5.4zM150.0 114.8h6.6l-3.3 5.4zM138.8 119.4h6.6l-3.3 5.4z" fill="none" stroke="#474747" stroke-width="1.1"/>
<rect x="170.62" y="177.6" width="23.8" height="3" fill="#000"/>
<line x1="182.5" y1="114.7" x2="182.5" y2="338.9" stroke="#111" stroke-width="1"/>
<path d="M178.2 327.1h6.6l-3.3 5.4zM180.6 145.0h6.6l-3.3 5.4zM178.9 182.4h6.6l-3.3 5.4zM179.0 316.2h6.6l-3.3 5.4zM178.5 269.7h6.6l-3.3 5.4zM182.8 119.7h6.6l-3.3 5.4zM179.8 152.3h6.6l-3.3 5.4zM177.2 130.1h6.6l-3.3 5.4zM171.2 112.7h6.6l-3.3 5.4zM178.6 121.7h6.6l-3.3 5.4zM179.5 234.4h6.6l-3.3 5.4zM171.4 114.5h6.6l-3.3 5.4zM178.0 151.0h6.6l-3.3 5.4zM178.2 154.1h6.6l-3.3 5.4zM179.5 294.8h6.6l-3.3 5.4zM184.2 120.2h6.6l-3.3 5.4zM183.5 117.0h6.6l-3.3 5.4zM187.2 113.7h6.6l-3.3 5.4zM178.4 323.4h6.6l-3.3 5.4zM182.0 118.6h6.6l-3.3 5.4zM178.9 226.6h6.6l-3.3 5.4zM177.7 141.1h6.6l-3.3 5.4zM178.8 287.2h6.6l-3.3 5.4zM179.1 141.9h6.6l-3.3 5.4zM178.9 299.2h6.6l-3.3 5.4zM178.8 128.9h6.6l-3.3 5.4zM179.3 178.2h6.6l-3.3 5.4zM179.3 308.8h6.6l-3.3 5.4zM179.0 142.3h6.6l-3.3 5.4zM178.7 242.4h6.6l-3.3 5.4zM179.2 170.4h6.6l-3.3 5.4zM179.4 235.5h6.6l-3.3 5.4zM179.1 115.9h6.6l-3.3 5.4zM179.1 168.7h6.6l-3.3 5.4zM178.8 131.6h6.6l-3.3 5.4zM178.9 163.0h6.6l-3.3 5.4zM179.8 151.9h6.6l-3.3 5.4zM182.8 112.4h6.6l-3.3 5.4zM178.5 265.4h6.6l-3.3 5.4zM178.6 129.8h6.6l-3.3 5.4zM185.8 114.2h6.6l-3.3 5.4zM181.3 127.9h6.6l-3.3 5.4zM176.5 115.4h6.6l-3.3 5.4zM179.0 113.9h6.6l-3.3 5.4zM178.7 281.1h6.6l-3.3 5.4zM179.8 153.4h6.6l-3.3 5.4zM178.6 287.0h6.6l-3.3 5.4zM178.9 127.6h6.6l-3.3 5.4zM179.2 156.2h6.6l-3.3 5.4zM178.4 117.6h6.6l-3.3 5.4zM179.0 240.9h6.6l-3.3 5.4zM181.0 135.8h6.6l-3.3 5.4zM181.9 121.1h6.6l-3.3 5.4zM185.2 116.2h6.6l-3.3 5.4zM180.3 149.1h6.6l-3.3 5.4zM179.3 138.4h6.6l-3.3 5.4zM179.3 264.9h6.6l-3.3 5.4zM175.6 112.3h6.6l-3.3 5.4zM179.5 218.8h6.6l-3.3 5.4zM182.5 120.2h6.6l-3.3 5.4zM179.8 127.3h6.6l-3.3 5.4zM179.6 130.0h6.6l-3.3 5.4zM177.6 142.8h6.6l-3.3 5.4zM179.5 199.4h6.6l-3.3 5.4zM177.8 140.5h6.6l-3.3 5.4zM178.4 123.7h6.6l-3.3 5.4zM179.9 173.3h6.6l-3.3 5.4zM178.9 285.9h6.6l-3.3 5.4zM172.8 114.5h6.6l-3.3 5.4zM179.6 312.1h6.6l-3.3 5.4zM177.1 119.5h6.6l-3.3 5.4zM181.6 120.2h6.6l-3.3 5.4zM179.3 306.2h6.6l-3.3 5.4zM186.0 117.7h6.6l-3.3 5.4zM187.6 113.0h6.6l-3.3 5.4zM173.1 116.6h6.6l-3.3 5.4zM179.6 121.5h6.6l-3.3 5.4zM180.8 114.1h6.6l-3.3 5.4zM177.8 138.7h6.6l-3.3 5.4zM176.8 113.5h6.6l-3.3 5.4zM181.2 128.7h6.6l-3.3 5.4zM184.4 117.5h6.6l-3.3 5.4zM179.1 252.3h6.6l-3.3 5.4zM177.9 144.8h6.6l-3.3 5.4zM179.1 266.5h6.6l-3.3 5.4zM179.8 309.1h6.6l-3.3 5.4zM179.2 307.0h6.6l-3.3 5.4zM178.4 263.9h6.6l-3.3 5.4zM186.3 116.7h6.6l-3.3 5.4zM179.8 195.6h6.6l-3.3 5.4zM185.5 115.1h6.6l-3.3 5.4zM179.2 186.6h6.6l-3.3 5.4zM179.7 123.2h6.6l-3.3 5.4zM179.5 212.8h6.6l-3.3 5.4zM179.6 112.8h6.6l-3.3 5.4zM179.1 135.9h6.6l-3.3 5.4zM179.1 213.9h6.6l-3.3 5.4zM178.9 115.3h6.6l-3.3 5.4zM174.4 115.2h6.6l-3.3 5.4zM179.6 125.0h6.6l-3.3 5.4zM178.2 142.0h6.6l-3.3 5.4zM178.7 122.2h6.6l-3.3 5.4zM178.5 130.5h6.6l-3.3 5.4zM179.8 272.5h6.6l-3.3 5.4zM179.2 295.0h6.6l-3.3 5.4zM179.9 155.0h6.6l-3.3 5.4zM178.5 128.7h6.6l-3.3 5.4zM179.4 188.3h6.6l-3.3 5.4zM178.9 209.5h6.6l-3.3 5.4zM179.9 189.6h6.6l-3.3 5.4zM178.9 226.0h6.6l-3.3 5.4zM177.9 330.9h6.6l-3.3 5.4zM174.0 112.8h6.6l-3.3 5.4zM179.5 332.4h6.6l-3.3 5.4zM178.2 147.7h6.6l-3.3 5.4zM180.0 299.4h6.6l-3.3 5.4zM180.6 132.7h6.6l-3.3 5.4zM179.6 186.1h6.6l-3.3 5.4zM178.2 113.0h6.6l-3.3 5.4zM178.6 133.8h6.6l-3.3 5.4zM180.1 132.9h6.6l-3.3 5.4zM179.8 274.6h6.6l-3.3 5.4zM178.9 286.1h6.6l-3.3 5.4zM181.0 333.1h6.6l-3.3 5.4zM178.8 136.6h6.6l-3.3 5.4zM181.1 124.2h6.6l-3.3 5.4zM178.7 246.6h6.6l-3.3 5.4zM179.3 229.2h6.6l-3.3 5.4zM179.9 273.9h6.6l-3.3 5.4zM178.5 143.9h6.6l-3.3 5.4zM178.2 120.0h6.6l-3.3 5.4zM180.7 116.5h6.6l-3.3 5.4zM177.5 115.1h6.6l-3.3 5.4zM179.2 153.1h6.6l-3.3 5.4zM178.1 328.3h6.6l-3.3 5.4zM174.8 114.6h6.6l-3.3 5.4zM181.8 122.5h6.6l-3.3 5.4zM178.6 281.2h6.6l-3.3 5.4zM180.0 308.2h6.6l-3.3 5.4zM180.7 129.3h6.6l-3.3 5.4zM176.6 118.9h6.6l-3.3 5.4zM179.7 123.5h6.6l-3.3 5.4zM180.2 141.3h6.6l-3.3 5.4zM181.2 118.1h6.6l-3.3 5.4zM179.6 244.0h6.6l-3.3 5.4zM179.3 183.3h6.6l-3.3 5.4zM178.8 327.2h6.6l-3.3 5.4zM181.2 123.5h6.6l-3.3 5.4zM180.5 148.3h6.6l-3.3 5.4zM178.4 118.2h6.6l-3.3 5.4zM175.5 121.9h6.6l-3.3 5.4zM178.9 294.7h6.6l-3.3 5.4zM179.9 125.7h6.6l-3.3 5.4zM180.0 149.4h6.6l-3.3 5.4zM179.0 303.2h6.6l-3.3 5.4zM179.3 302.7h6.6l-3.3 5.4zM177.8 116.2h6.6l-3.3 5.4zM179.0 159.4h6.6l-3.3 5.4zM179.7 270.7h6.6l-3.3 5.4zM179.0 298.7h6.6l-3.3 5.4zM179.7 129.5h6.6l-3.3 5.4zM179.6 150.3h6.6l-3.3 5.4zM177.5 124.5h6.6l-3.3 5.4zM178.5 127.9h6.6l-3.3 5.4zM179.5 138.6h6.6l-3.3 5.4zM178.6 137.9h6.6l-3.3 5.4zM178.3 126.7h6.6l-3.3 5.4zM180.0 285.8h6.6l-3.3 5.4zM177.2 112.8h6.6l-3.3 5.4zM178.4 145.5h6.6l-3.3 5.4zM184.4 117.9h6.6l-3.3 5.4zM178.4 316.9h6.6l-3.3 5.4zM179.7 221.7h6.6l-3.3 5.4zM179.2 144.0h6.6l-3.3 5.4zM179.8 276.4h6.6l-3.3 5.4zM175.4 118.2h6.6l-3.3 5.4zM177.3 127.7h6.6l-3.3 5.4zM178.9 116.6h6.6l-3.3 5.4zM179.3 251.8h6.6l-3.3 5.4zM181.4 112.4h6.6l-3.3 5.4zM186.3 112.3h6.6l-3.3 5.4zM181.6 121.5h6.6l-3.3 5.4zM183.0 117.9h6.6l-3.3 5.4zM181.0 137.1h6.6l-3.3 5.4zM179.2 147.0h6.6l-3.3 5.4zM178.4 139.9h6.6l-3.3 5.4zM179.9 195.3h6.6l-3.3 5.4zM174.7 116.6h6.6l-3.3 5.4zM178.5 146.7h6.6l-3.3 5.4zM180.6 142.0h6.6l-3.3 5.4zM179.6 229.3h6.6l-3.3 5.4zM183.8 118.7h6.6l-3.3 5.4zM176.4 121.0h6.6l-3.3 5.4zM179.0 134.4h6.6l-3.3 5.4zM180.4 118.9h6.6l-3.3 5.4zM173.4 115.2h6.6l-3.3 5.4zM178.7 251.4h6.6l-3.3 5.4zM178.4 319.5h6.6l-3.3 5.4zM177.7 144.2h6.6l-3.3 5.4zM177.4 137.7h6.6l-3.3 5.4zM178.0 119.1h6.6l-3.3 5.4zM182.6 121.4h6.6l-3.3 5.4zM180.7 147.4h6.6l-3.3 5.4zM177.7 134.0h6.6l-3.3 5.4zM179.3 328.9h6.6l-3.3 5.4zM179.5 130.9h6.6l-3.3 5.4zM178.5 284.3h6.6l-3.3 5.4zM179.6 136.6h6.6l-3.3 5.4zM179.6 268.2h6.6l-3.3 5.4zM179.4 149.8h6.6l-3.3 5.4zM178.9 250.0h6.6l-3.3 5.4zM178.5 291.0h6.6l-3.3 5.4zM184.0 113.2h6.6l-3.3 5.4zM179.4 299.6h6.6l-3.3 5.4zM179.7 128.4h6.6l-3.3 5.4zM174.8 118.7h6.6l-3.3 5.4zM179.4 152.2h6.6l-3.3 5.4zM178.1 139.4h6.6l-3.3 5.4zM179.6 139.1h6.6l-3.3 5.4zM179.1 216.4h6.6l-3.3 5.4zM178.3 133.1h6.6l-3.3 5.4zM180.5 137.5h6.6l-3.3 5.4zM181.6 113.2h6.6l-3.3 5.4zM183.8 115.3h6.6l-3.3 5.4zM183.9 116.0h6.6l-3.3 5.4zM187.7 112.4h6.6l-3.3 5.4zM185.5 118.8h6.6l-3.3 5.4zM177.4 135.5h6.6l-3.3 5.4zM178.5 123.1h6.6l-3.3 5.4zM179.3 144.7h6.6l-3.3 5.4zM179.5 265.2h6.6l-3.3 5.4zM179.6 279.5h6.6l-3.3 5.4zM174.5 120.0h6.6l-3.3 5.4zM181.2 125.6h6.6l-3.3 5.4zM180.2 151.0h6.6l-3.3 5.4zM179.5 124.5h6.6l-3.3 5.4zM180.0 310.1h6.6l-3.3 5.4zM179.4 180.9h6.6l-3.3 5.4zM179.7 271.8h6.6l-3.3 5.4zM179.4 121.1h6.6l-3.3 5.4zM179.8 187.8h6.6l-3.3 5.4zM175.5 113.1h6.6l-3.3 5.4zM179.9 334.2h6.6l-3.3 5.4zM178.6 149.8h6.6l-3.3 5.4zM177.3 125.8h6.6l-3.3 5.4zM177.0 122.5h6.6l-3.3 5.4zM177.1 120.0h6.6l-3.3 5.4zM179.9 293.6h6.6l-3.3 5.4zM177.2 118.3h6.6l-3.3 5.4zM179.6 266.6h6.6l-3.3 5.4zM180.8 146.1h6.6l-3.3 5.4zM186.7 114.7h6.6l-3.3 5.4zM180.9 122.8h6.6l-3.3 5.4zM182.6 114.6h6.6l-3.3 5.4zM178.0 136.3h6.6l-3.3 5.4zM178.8 293.1h6.6l-3.3 5.4zM180.8 142.6h6.6l-3.3 5.4zM179.9 122.4h6.6l-3.3 5.4zM179.1 144.2h6.6l-3.3 5.4zM178.7 287.3h6.6l-3.3 5.4zM182.5 115.6h6.6l-3.3 5.4zM179.4 325.7h6.6l-3.3 5.4zM178.6 217.2h6.6l-3.3 5.4zM172.0 116.8h6.6l-3.3 5.4zM171.1 113.1h6.6l-3.3 5.4zM178.4 305.9h6.6l-3.3 5.4zM178.7 209.2h6.6l-3.3 5.4zM179.8 287.5h6.6l-3.3 5.4zM178.5 149.1h6.6l-3.3 5.4zM178.5 125.3h6.6l-3.3 5.4zM178.6 279.1h6.6l-3.3 5.4zM178.6 291.9h6.6l-3.3 5.4zM177.9 150.3h6.6l-3.3 5.4zM179.5 309.5h6.6l-3.3 5.4zM179.1 139.8h6.6l-3.3 5.4zM180.9 327.0h6.6l-3.3 5.4zM179.6 137.0h6.6l-3.3 5.4zM177.7 114.1h6.6l-3.3 5.4zM185.0 116.9h6.6l-3.3 5.4zM179.4 137.6h6.6l-3.3 5.4zM179.0 316.3h6.6l-3.3 5.4zM179.8 178.3h6.6l-3.3 5.4zM177.7 330.1h6.6l-3.3 5.4zM179.1 267.1h6.6l-3.3 5.4zM179.2 114.9h6.6l-3.3 5.4zM179.0 119.1h6.6l-3.3 5.4zM181.5 117.3h6.6l-3.3 5.4zM178.3 279.0h6.6l-3.3 5.4zM179.0 267.0h6.6l-3.3 5.4zM176.6 117.2h6.6l-3.3 5.4zM179.2 141.4h6.6l-3.3 5.4zM186.8 116.3h6.6l-3.3 5.4zM177.7 127.5h6.6l-3.3 5.4zM172.1 115.8h6.6l-3.3 5.4zM172.5 117.5h6.6l-3.3 5.4zM179.8 126.7h6.6l-3.3 5.4zM176.1 114.6h6.6l-3.3 5.4zM179.1 158.0h6.6l-3.3 5.4zM178.4 292.6h6.6l-3.3 5.4zM179.4 146.0h6.6l-3.3 5.4zM173.4 116.2h6.6l-3.3 5.4zM179.7 248.7h6.6l-3.3 5.4zM174.1 117.3h6.6l-3.3 5.4zM180.2 140.1h6.6l-3.3 5.4zM181.4 125.0h6.6l-3.3 5.4zM177.4 121.1h6.6l-3.3 5.4zM178.7 195.4h6.6l-3.3 5.4zM173.4 119.0h6.6l-3.3 5.4zM173.8 118.0h6.6l-3.3 5.4zM180.7 131.4h6.6l-3.3 5.4zM177.4 132.4h6.6l-3.3 5.4zM180.5 136.3h6.6l-3.3 5.4zM180.2 154.8h6.6l-3.3 5.4zM179.1 279.6h6.6l-3.3 5.4zM178.5 330.3h6.6l-3.3 5.4zM178.4 334.0h6.6l-3.3 5.4zM179.1 324.5h6.6l-3.3 5.4zM178.9 198.3h6.6l-3.3 5.4zM183.3 113.2h6.6l-3.3 5.4zM179.6 295.0h6.6l-3.3 5.4zM179.3 316.4h6.6l-3.3 5.4zM181.8 116.8h6.6l-3.3 5.4zM177.2 128.7h6.6l-3.3 5.4zM178.8 232.0h6.6l-3.3 5.4zM178.9 233.1h6.6l-3.3 5.4zM179.7 179.0h6.6l-3.3 5.4zM179.5 302.2h6.6l-3.3 5.4zM180.5 143.9h6.6l-3.3 5.4zM180.0 118.0h6.6l-3.3 5.4zM178.8 205.9h6.6l-3.3 5.4zM179.2 305.3h6.6l-3.3 5.4zM177.3 329.1h6.6l-3.3 5.4zM179.3 237.9h6.6l-3.3 5.4zM178.2 146.2h6.6l-3.3 5.4zM179.2 325.1h6.6l-3.3 5.4zM171.6 114.0h6.6l-3.3 5.4zM180.9 114.9h6.6l-3.3 5.4zM179.1 186.0h6.6l-3.3 5.4zM181.0 133.8h6.6l-3.3 5.4zM177.3 133.0h6.6l-3.3 5.4zM178.5 127.0h6.6l-3.3 5.4zM178.6 281.7h6.6l-3.3 5.4zM177.3 131.6h6.6l-3.3 5.4zM179.6 260.0h6.6l-3.3 5.4zM180.3 113.5h6.6l-3.3 5.4zM174.7 116.3h6.6l-3.3 5.4zM179.4 185.5h6.6l-3.3 5.4zM179.9 320.8h6.6l-3.3 5.4zM174.0 113.3h6.6l-3.3 5.4zM179.3 143.2h6.6l-3.3 5.4zM175.5 120.5h6.6l-3.3 5.4zM179.6 145.7h6.6l-3.3 5.4zM179.3 235.5h6.6l-3.3 5.4zM178.7 330.0h6.6l-3.3 5.4zM181.0 134.8h6.6l-3.3 5.4zM179.7 266.0h6.6l-3.3 5.4zM179.9 147.3h6.6l-3.3 5.4zM175.0 117.6h6.6l-3.3 5.4zM180.1 276.1h6.6l-3.3 5.4zM178.8 112.6h6.6l-3.3 5.4zM185.1 114.8h6.6l-3.3 5.4zM179.6 127.8h6.6l-3.3 5.4zM178.2 155.0h6.6l-3.3 5.4zM178.8 285.0h6.6l-3.3 5.4zM179.4 293.8h6.6l-3.3 5.4zM175.9 113.9h6.6l-3.3 5.4zM179.9 278.1h6.6l-3.3 5.4zM175.4 119.6h6.6l-3.3 5.4zM180.8 132.1h6.6l-3.3 5.4zM179.6 145.5h6.6l-3.3 5.4zM178.5 302.4h6.6l-3.3 5.4zM179.4 135.0h6.6l-3.3 5.4zM177.4 114.7h6.6l-3.3 5.4zM178.7 334.0h6.6l-3.3 5.4zM181.0 134.5h6.6l-3.3 5.4zM179.1 149.1h6.6l-3.3 5.4zM178.6 124.2h6.6l-3.3 5.4zM179.6 133.4h6.6l-3.3 5.4zM172.9 113.0h6.6l-3.3 5.4zM179.8 278.9h6.6l-3.3 5.4zM177.1 122.8h6.6l-3.3 5.4zM178.2 143.2h6.6l-3.3 5.4zM178.7 129.3h6.6l-3.3 5.4zM181.2 127.3h6.6l-3.3 5.4zM177.6 136.9h6.6l-3.3 5.4zM185.9 113.3h6.6l-3.3 5.4zM178.7 263.4h6.6l-3.3 5.4zM180.9 115.8h6.6l-3.3 5.4zM179.3 142.5h6.6l-3.3 5.4zM180.8 115.3h6.6l-3.3 5.4zM178.6 284.4h6.6l-3.3 5.4zM180.6 139.2h6.6l-3.3 5.4zM179.1 190.6h6.6l-3.3 5.4zM178.5 313.2h6.6l-3.3 5.4zM180.7 138.3h6.6l-3.3 5.4zM178.8 119.3h6.6l-3.3 5.4zM178.8 138.7h6.6l-3.3 5.4zM180.7 121.2h6.6l-3.3 5.4zM177.4 123.9h6.6l-3.3 5.4zM181.0 129.8h6.6l-3.3 5.4zM179.8 266.4h6.6l-3.3 5.4zM179.7 277.9h6.6l-3.3 5.4zM179.3 322.1h6.6l-3.3 5.4zM179.7 219.8h6.6l-3.3 5.4zM182.1 116.0h6.6l-3.3 5.4zM179.7 177.6h6.6l-3.3 5.4zM183.5 114.5h6.6l-3.3 5.4zM178.8 318.5h6.6l-3.3 5.4zM181.4 126.4h6.6l-3.3 5.4zM173.1 113.9h6.6l-3.3 5.4zM180.5 145.2h6.6l-3.3 5.4zM183.8 121.1h6.6l-3.3 5.4zM178.8 152.9h6.6l-3.3 5.4zM179.9 263.8h6.6l-3.3 5.4zM178.5 192.1h6.6l-3.3 5.4zM179.6 147.6h6.6l-3.3 5.4zM185.5 118.3h6.6l-3.3 5.4zM179.4 175.2h6.6l-3.3 5.4zM176.4 116.6h6.6l-3.3 5.4zM178.6 175.6h6.6l-3.3 5.4zM179.2 149.0h6.6l-3.3 5.4zM180.3 119.7h6.6l-3.3 5.4zM178.6 177.6h6.6l-3.3 5.4zM187.0 115.6h6.6l-3.3 5.4zM179.7 132.3h6.6l-3.3 5.4zM178.8 125.7h6.6l-3.3 5.4zM172.4 112.8h6.6l-3.3 5.4zM174.9 121.1h6.6l-3.3 5.4zM178.4 313.7h6.6l-3.3 5.4zM179.3 214.5h6.6l-3.3 5.4zM179.1 304.3h6.6l-3.3 5.4zM177.0 125.3h6.6l-3.3 5.4zM179.5 195.6h6.6l-3.3 5.4zM178.8 195.4h6.6l-3.3 5.4zM179.3 311.4h6.6l-3.3 5.4zM179.4 244.5h6.6l-3.3 5.4zM177.3 133.7h6.6l-3.3 5.4zM179.5 131.7h6.6l-3.3 5.4zM180.0 154.0h6.6l-3.3 5.4zM177.2 126.3h6.6l-3.3 5.4zM178.7 152.2h6.6l-3.3 5.4zM178.1 139.8h6.6l-3.3 5.4zM174.3 113.9h6.6l-3.3 5.4zM179.4 163.6h6.6l-3.3 5.4zM171.5 115.3h6.6l-3.3 5.4zM180.0 282.7h6.6l-3.3 5.4zM179.0 248.2h6.6l-3.3 5.4zM176.8 121.5h6.6l-3.3 5.4zM179.6 297.9h6.6l-3.3 5.4zM179.5 270.6h6.6l-3.3 5.4zM179.4 289.8h6.6l-3.3 5.4zM179.5 306.6h6.6l-3.3 5.4zM179.2 173.5h6.6l-3.3 5.4zM179.9 294.1h6.6l-3.3 5.4zM179.8 300.9h6.6l-3.3 5.4zM179.1 151.9h6.6l-3.3 5.4zM179.5 312.9h6.6l-3.3 5.4zM179.2 326.8h6.6l-3.3 5.4zM179.9 117.6h6.6l-3.3 5.4zM177.6 130.9h6.6l-3.3 5.4zM180.8 140.5h6.6l-3.3 5.4zM180.5 150.2h6.6l-3.3 5.4zM173.5 119.3h6.6l-3.3 5.4zM178.9 148.4h6.6l-3.3 5.4zM178.2 148.4h6.6l-3.3 5.4zM178.7 154.7h6.6l-3.3 5.4zM179.8 279.9h6.6l-3.3 5.4zM179.2 302.3h6.6l-3.3 5.4zM178.8 311.7h6.6l-3.3 5.4zM180.8 328.3h6.6l-3.3 5.4zM178.5 331.4h6.6l-3.3 5.4zM178.9 268.3h6.6l-3.3 5.4zM180.9 130.5h6.6l-3.3 5.4zM178.8 132.2h6.6l-3.3 5.4zM177.9 129.1h6.6l-3.3 5.4zM178.6 151.7h6.6l-3.3 5.4zM179.3 140.7h6.6l-3.3 5.4zM179.7 267.1h6.6l-3.3 5.4zM178.9 202.3h6.6l-3.3 5.4zM180.3 143.2h6.6l-3.3 5.4zM178.9 293.5h6.6l-3.3 5.4zM179.4 175.6h6.6l-3.3 5.4zM182.6 114.0h6.6l-3.3 5.4zM180.2 146.8h6.6l-3.3 5.4zM180.7 336.4h6.6l-3.3 5.4zM179.8 194.1h6.6l-3.3 5.4zM179.5 174.5h6.6l-3.3 5.4zM183.2 117.5h6.6l-3.3 5.4zM179.6 120.2h6.6l-3.3 5.4zM176.0 116.1h6.6l-3.3 5.4zM179.5 151.3h6.6l-3.3 5.4zM172.7 118.0h6.6l-3.3 5.4zM177.7 135.1h6.6l-3.3 5.4zM180.0 273.9h6.6l-3.3 5.4zM184.8 112.3h6.6l-3.3 5.4zM184.5 119.7h6.6l-3.3 5.4zM178.8 186.2h6.6l-3.3 5.4zM181.3 119.8h6.6l-3.3 5.4zM178.8 331.7h6.6l-3.3 5.4zM179.9 313.3h6.6l-3.3 5.4zM184.1 113.9h6.6l-3.3 5.4zM178.5 265.5h6.6l-3.3 5.4zM177.8 116.9h6.6l-3.3 5.4z" fill="none" stroke="#474747" stroke-width="1.1"/>
<rect x="206.08" y="183.3" width="23.8" height="3" fill="#000"/>
<line x1="218.0" y1="114.7" x2="218.0" y2="338.7" stroke="#111" stroke-width="1"/>
<path d="M219.4 115.6h6.6l-3.3 5.4zM214.1 179.2h6.6l-3.3 5.4zM210.4 114.6h6.6l-3.3 5.4zM212.1 122.8h6.6l-3.3 5.4zM214.3 132.0h6.6l-3.3 5.4zM213.9 161.5h6.6l-3.3 5.4zM214.7 121.8h6.6l-3.3 5.4zM213.9 294.6h6.6l-3.3 5.4zM215.5 280.6h6.6l-3.3 5.4zM217.4 115.2h6.6l-3.3 5.4zM214.1 124.5h6.6l-3.3 5.4zM210.8 120.2h6.6l-3.3 5.4zM211.9 116.5h6.6l-3.3 5.4zM214.5 282.3h6.6l-3.3 5.4zM214.6 193.3h6.6l-3.3 5.4zM214.9 201.0h6.6l-3.3 5.4zM215.6 299.1h6.6l-3.3 5.4zM215.5 275.3h6.6l-3.3 5.4zM214.5 171.7h6.6l-3.3 5.4zM215.0 146.4h6.6l-3.3 5.4zM216.1 119.8h6.6l-3.3 5.4zM214.8 126.9h6.6l-3.3 5.4zM213.3 123.3h6.6l-3.3 5.4zM216.7 122.4h6.6l-3.3 5.4zM214.5 137.9h6.6l-3.3 5.4zM214.2 300.2h6.6l-3.3 5.4zM214.6 129.4h6.6l-3.3 5.4zM214.2 283.9h6.6l-3.3 5.4zM219.4 121.0h6.6l-3.3 5.4zM214.3 124.8h6.6l-3.3 5.4zM214.7 226.9h6.6l-3.3 5.4zM215.6 121.1h6.6l-3.3 5.4zM219.1 119.3h6.6l-3.3 5.4zM216.6 329.8h6.6l-3.3 5.4zM215.0 123.8h6.6l-3.3 5.4zM216.6 120.1h6.6l-3.3 5.4zM215.5 312.8h6.6l-3.3 5.4zM215.8 335.7h6.6l-3.3 5.4zM209.4 118.2h6.6l-3.3 5.4zM220.9 114.7h6.6l-3.3 5.4zM222.3 113.0h6.6l-3.3 5.4zM220.9 113.7h6.6l-3.3 5.4zM214.3 308.1h6.6l-3.3 5.4zM216.0 114.2h6.6l-3.3 5.4zM214.9 172.7h6.6l-3.3 5.4zM214.9 125.2h6.6l-3.3 5.4zM213.0 116.3h6.6l-3.3 5.4zM215.1 325.4h6.6l-3.3 5.4zM213.9 144.9h6.6l-3.3 5.4zM214.3 163.2h6.6l-3.3 5.4zM214.0 327.4h6.6l-3.3 5.4zM215.0 322.1h6.6l-3.3 5.4zM214.1 141.2h6.6l-3.3 5.4zM214.9 302.4h6.6l-3.3 5.4zM214.2 240.2h6.6l-3.3 5.4zM222.4 114.4h6.6l-3.3 5.4zM212.0 119.8h6.6l-3.3 5.4zM214.7 330.4h6.6l-3.3 5.4zM209.7 113.9h6.6l-3.3 5.4zM214.3 135.2h6.6l-3.3 5.4zM214.6 336.2h6.6l-3.3 5.4zM214.8 323.8h6.6l-3.3 5.4zM214.1 228.8h6.6l-3.3 5.4zM214.7 167.1h6.6l-3.3 5.4zM214.1 308.1h6.6l-3.3 5.4zM213.4 329.1h6.6l-3.3 5.4zM209.7 113.1h6.6l-3.3 5.4zM214.9 143.1h6.6l-3.3 5.4zM217.2 118.2h6.6l-3.3 5.4zM210.7 116.9h6.6l-3.3 5.4zM214.6 240.8h6.6l-3.3 5.4zM214.3 199.6h6.6l-3.3 5.4zM214.0 123.9h6.6l-3.3 5.4zM214.7 324.4h6.6l-3.3 5.4zM214.9 139.7h6.6l-3.3 5.4zM213.1 119.3h6.6l-3.3 5.4zM214.6 225.0h6.6l-3.3 5.4zM214.3 268.2h6.6l-3.3 5.4zM214.6 168.8h6.6l-3.3 5.4zM214.2 163.7h6.6l-3.3 5.4zM217.3 115.9h6.6l-3.3 5.4zM213.8 294.6h6.6l-3.3 5.4zM214.2 191.6h6.6l-3.3 5.4zM214.6 313.7h6.6l-3.3 5.4zM214.5 313.6h6.6l-3.3 5.4zM213.9 118.4h6.6l-3.3 5.4zM214.1 132.9h6.6l-3.3 5.4zM214.4 170.0h6.6l-3.3 5.4zM214.8 163.4h6.6l-3.3 5.4zM214.0 306.9h6.6l-3.3 5.4zM215.1 297.0h6.6l-3.3 5.4zM214.7 162.9h6.6l-3.3 5.4zM215.4 148.2h6.6l-3.3 5.4zM215.1 305.3h6.6l-3.3 5.4zM210.0 121.2h6.6l-3.3 5.4zM207.3 114.0h6.6l-3.3 5.4zM214.8 143.4h6.6l-3.3 5.4zM214.4 325.2h6.6l-3.3 5.4zM212.5 118.1h6.6l-3.3 5.4zM214.4 146.6h6.6l-3.3 5.4zM214.9 114.2h6.6l-3.3 5.4zM215.0 247.8h6.6l-3.3 5.4zM215.5 117.5h6.6l-3.3 5.4zM220.8 115.8h6.6l-3.3 5.4zM215.2 188.7h6.6l-3.3 5.4zM210.2 112.3h6.6l-3.3 5.4zM214.7 285.5h6.6l-3.3 5.4zM213.4 113.8h6.6l-3.3 5.4zM219.3 113.9h6.6l-3.3 5.4zM215.8 114.9h6.6l-3.3 5.4zM214.9 213.5h6.6l-3.3 5.4zM215.2 317.3h6.6l-3.3 5.4zM218.2 112.5h6.6l-3.3 5.4zM215.2 230.2h6.6l-3.3 5.4zM213.5 121.4h6.6l-3.3 5.4zM217.7 118.7h6.6l-3.3 5.4zM214.9 119.7h6.6l-3.3 5.4zM215.3 229.6h6.6l-3.3 5.4zM220.9 119.8h6.6l-3.3 5.4zM214.4 328.1h6.6l-3.3 5.4zM216.3 115.2h6.6l-3.3 5.4zM214.5 254.7h6.6l-3.3 5.4zM215.0 281.7h6.6l-3.3 5.4zM214.0 320.6h6.6l-3.3 5.4zM212.4 123.6h6.6l-3.3 5.4zM214.2 275.4h6.6l-3.3 5.4zM214.6 206.9h6.6l-3.3 5.4zM214.6 144.0h6.6l-3.3 5.4zM217.5 122.8h6.6l-3.3 5.4zM214.3 292.2h6.6l-3.3 5.4zM214.1 240.6h6.6l-3.3 5.4zM214.4 280.2h6.6l-3.3 5.4zM211.3 114.7h6.6l-3.3 5.4zM210.2 121.5h6.6l-3.3 5.4zM212.4 120.0h6.6l-3.3 5.4zM214.6 264.2h6.6l-3.3 5.4zM211.5 118.8h6.6l-3.3 5.4zM214.1 179.6h6.6l-3.3 5.4zM207.6 116.7h6.6l-3.3 5.4zM213.7 122.4h6.6l-3.3 5.4zM211.1 121.0h6.6l-3.3 5.4zM210.0 119.5h6.6l-3.3 5.4zM218.0 114.4h6.6l-3.3 5.4zM215.0 260.5h6.6l-3.3 5.4zM209.4 117.4h6.6l-3.3 5.4zM213.9 126.9h6.6l-3.3 5.4zM208.9 114.8h6.6l-3.3 5.4zM216.4 124.0h6.6l-3.3 5.4zM212.7 122.3h6.6l-3.3 5.4zM222.2 115.6h6.6l-3.3 5.4zM221.7 116.2h6.6l-3.3 5.4zM210.2 116.0h6.6l-3.3 5.4zM215.0 278.7h6.6l-3.3 5.4zM207.0 116.1h6.6l-3.3 5.4zM209.0 119.8h6.6l-3.3 5.4zM216.7 112.6h6.6l-3.3 5.4zM215.5 320.2h6.6l-3.3 5.4zM215.3 189.1h6.6l-3.3 5.4zM214.9 124.4h6.6l-3.3 5.4zM214.8 318.3h6.6l-3.3 5.4zM213.6 116.8h6.6l-3.3 5.4zM214.9 310.4h6.6l-3.3 5.4zM209.1 116.9h6.6l-3.3 5.4zM208.4 112.6h6.6l-3.3 5.4zM215.0 302.2h6.6l-3.3 5.4zM216.1 329.4h6.6l-3.3 5.4zM214.4 278.2h6.6l-3.3 5.4zM213.9 147.1h6.6l-3.3 5.4zM216.2 124.5h6.6l-3.3 5.4zM215.3 157.4h6.6l-3.3 5.4zM214.1 169.5h6.6l-3.3 5.4zM208.4 113.5h6.6l-3.3 5.4zM215.2 133.5h6.6l-3.3 5.4zM221.5 117.6h6.6l-3.3 5.4zM219.3 121.4h6.6l-3.3 5.4zM214.2 213.9h6.6l-3.3 5.4zM210.9 117.6h6.6l-3.3 5.4zM214.8 142.9h6.6l-3.3 5.4zM220.6 117.0h6.6l-3.3 5.4zM214.9 160.9h6.6l-3.3 5.4zM214.7 307.5h6.6l-3.3 5.4zM214.3 157.3h6.6l-3.3 5.4zM219.4 114.4h6.6l-3.3 5.4zM221.3 112.4h6.6l-3.3 5.4zM212.8 112.8h6.6l-3.3 5.4zM215.4 157.2h6.6l-3.3 5.4zM220.2 117.5h6.6l-3.3 5.4zM215.3 131.6h6.6l-3.3 5.4zM213.8 320.3h6.6l-3.3 5.4zM214.3 137.6h6.6l-3.3 5.4zM216.1 328.6h6.6l-3.3 5.4zM207.5 115.5h6.6l-3.3 5.4zM214.0 142.8h6.6l-3.3 5.4zM214.1 275.1h6.6l-3.3 5.4zM215.4 285.8h6.6l-3.3 5.4zM214.9 184.6h6.6l-3.3 5.4zM211.3 114.1h6.6l-3.3 5.4zM213.8 333.4h6.6l-3.3 5.4zM217.8 119.6h6.6l-3.3 5.4zM208.4 114.2h6.6l-3.3 5.4zM214.2 152.6h6.6l-3.3 5.4zM214.3 174.9h6.6l-3.3 5.4zM214.3 309.6h6.6l-3.3 5.4zM214.5 166.7h6.6l-3.3 5.4zM214.7 285.2h6.6l-3.3 5.4zM214.2 128.7h6.6l-3.3 5.4zM215.3 154.8h6.6l-3.3 5.4zM218.3 121.2h6.6l-3.3 5.4zM215.6 120.3h6.6l-3.3 5.4zM215.0 165.6h6.6l-3.3 5.4zM214.6 229.0h6.6l-3.3 5.4zM218.7 117.9h6.6l-3.3 5.4zM213.9 134.3h6.6l-3.3 5.4zM214.6 313.9h6.6l-3.3 5.4zM214.5 162.3h6.6l-3.3 5.4zM214.9 309.3h6.6l-3.3 5.4zM214.4 154.3h6.6l-3.3 5.4zM215.1 277.5h6.6l-3.3 5.4zM217.1 117.6h6.6l-3.3 5.4zM214.8 119.0h6.6l-3.3 5.4zM218.9 116.3h6.6l-3.3 5.4zM214.6 214.8h6.6l-3.3 5.4zM215.0 131.7h6.6l-3.3 5.4zM222.4 113.9h6.6l-3.3 5.4zM215.5 117.9h6.6l-3.3 5.4zM215.5 296.0h6.6l-3.3 5.4zM220.9 113.2h6.6l-3.3 5.4zM214.2 136.0h6.6l-3.3 5.4zM214.2 144.3h6.6l-3.3 5.4zM214.4 329.5h6.6l-3.3 5.4zM215.4 334.5h6.6l-3.3 5.4zM215.5 281.2h6.6l-3.3 5.4zM214.9 241.6h6.6l-3.3 5.4zM214.1 171.5h6.6l-3.3 5.4zM220.5 115.4h6.6l-3.3 5.4zM218.4 122.1h6.6l-3.3 5.4zM218.5 120.2h6.6l-3.3 5.4zM214.0 325.9h6.6l-3.3 5.4zM214.2 234.2h6.6l-3.3 5.4zM214.8 112.7h6.6l-3.3 5.4zM215.2 166.7h6.6l-3.3 5.4zM212.1 117.3h6.6l-3.3 5.4zM213.4 124.2h6.6l-3.3 5.4zM220.4 120.4h6.6l-3.3 5.4zM214.7 181.2h6.6l-3.3 5.4zM214.5 332.7h6.6l-3.3 5.4zM215.0 293.9h6.6l-3.3 5.4zM215.1 143.7h6.6l-3.3 5.4zM214.7 136.1h6.6l-3.3 5.4zM214.8 113.5h6.6l-3.3 5.4zM213.2 113.0h6.6l-3.3 5.4zM207.8 118.0h6.6l-3.3 5.4zM216.2 123.2h6.6l-3.3 5.4zM214.5 291.0h6.6l-3.3 5.4zM214.7 212.8h6.6l-3.3 5.4zM214.3 173.9h6.6l-3.3 5.4zM214.8 281.7h6.6l-3.3 5.4zM206.8 113.5h6.6l-3.3 5.4zM214.9 296.4h6.6l-3.3 5.4zM211.3 113.1h6.6l-3.3 5.4zM214.9 200.0h6.6l-3.3 5.4zM215.0 300.6h6.6l-3.3 5.4zM216.7 120.8h6.6l-3.3 5.4zM214.2 283.1h6.6l-3.3 5.4zM215.5 294.3h6.6l-3.3 5.4zM212.9 118.7h6.6l-3.3 5.4zM214.5 297.7h6.6l-3.3 5.4zM215.1 145.2h6.6l-3.3 5.4zM214.8 315.3h6.6l-3.3 5.4zM212.8 114.9h6.6l-3.3 5.4zM215.5 117.0h6.6l-3.3 5.4zM213.2 115.4h6.6l-3.3 5.4zM216.4 121.7h6.6l-3.3 5.4zM214.5 219.0h6.6l-3.3 5.4zM215.0 168.8h6.6l-3.3 5.4zM213.8 273.8h6.6l-3.3 5.4zM215.2 185.0h6.6l-3.3 5.4zM213.8 313.5h6.6l-3.3 5.4zM215.0 327.6h6.6l-3.3 5.4zM214.7 114.5h6.6l-3.3 5.4zM214.9 151.0h6.6l-3.3 5.4zM207.4 117.4h6.6l-3.3 5.4zM215.4 280.1h6.6l-3.3 5.4zM212.8 333.3h6.6l-3.3 5.4zM220.8 118.6h6.6l-3.3 5.4zM211.2 118.1h6.6l-3.3 5.4zM215.2 179.6h6.6l-3.3 5.4zM216.0 327.3h6.6l-3.3 5.4zM215.2 242.4h6.6l-3.3 5.4zM215.1 253.1h6.6l-3.3 5.4zM214.7 170.4h6.6l-3.3 5.4zM209.1 116.3h6.6l-3.3 5.4zM215.1 323.2h6.6l-3.3 5.4zM217.6 114.1h6.6l-3.3 5.4zM211.9 115.5h6.6l-3.3 5.4zM215.1 288.8h6.6l-3.3 5.4zM214.6 266.3h6.6l-3.3 5.4zM214.6 152.1h6.6l-3.3 5.4zM207.2 114.8h6.6l-3.3 5.4zM215.0 173.0h6.6l-3.3 5.4zM216.6 113.0h6.6l-3.3 5.4zM214.3 165.2h6.6l-3.3 5.4zM215.1 167.6h6.6l-3.3 5.4zM211.8 121.4h6.6l-3.3 5.4zM214.6 261.7h6.6l-3.3 5.4zM215.8 115.8h6.6l-3.3 5.4zM215.3 317.2h6.6l-3.3 5.4zM215.2 173.8h6.6l-3.3 5.4zM215.5 293.3h6.6l-3.3 5.4zM216.6 118.6h6.6l-3.3 5.4zM214.7 138.3h6.6l-3.3 5.4zM214.4 153.2h6.6l-3.3 5.4zM214.1 168.7h6.6l-3.3 5.4zM220.2 118.2h6.6l-3.3 5.4zM214.2 156.7h6.6l-3.3 5.4zM222.7 112.6h6.6l-3.3 5.4zM208.8 119.1h6.6l-3.3 5.4zM214.6 193.9h6.6l-3.3 5.4zM214.4 265.5h6.6l-3.3 5.4zM215.1 235.6h6.6l-3.3 5.4zM214.5 297.2h6.6l-3.3 5.4zM214.5 196.9h6.6l-3.3 5.4zM214.3 117.5h6.6l-3.3 5.4zM213.9 298.3h6.6l-3.3 5.4zM214.2 282.2h6.6l-3.3 5.4zM215.5 302.4h6.6l-3.3 5.4zM214.4 168.7h6.6l-3.3 5.4zM219.8 112.6h6.6l-3.3 5.4zM209.0 120.4h6.6l-3.3 5.4zM213.6 120.7h6.6l-3.3 5.4zM221.4 118.1h6.6l-3.3 5.4zM217.2 121.8h6.6l-3.3 5.4zM215.1 176.9h6.6l-3.3 5.4zM214.4 115.8h6.6l-3.3 5.4zM211.4 112.6h6.6l-3.3 5.4zM217.4 116.9h6.6l-3.3 5.4zM221.5 116.5h6.6l-3.3 5.4zM214.4 181.5h6.6l-3.3 5.4zM215.2 332.4h6.6l-3.3 5.4zM214.4 328.5h6.6l-3.3 5.4zM210.0 118.8h6.6l-3.3 5.4zM217.6 113.2h6.6l-3.3 5.4zM214.6 144.3h6.6l-3.3 5.4zM214.5 225.4h6.6l-3.3 5.4zM218.9 117.5h6.6l-3.3 5.4zM214.3 162.9h6.6l-3.3 5.4zM214.2 315.7h6.6l-3.3 5.4zM214.4 123.0h6.6l-3.3 5.4zM218.5 116.5h6.6l-3.3 5.4zM215.3 288.4h6.6l-3.3 5.4zM215.0 299.9h6.6l-3.3 5.4zM214.4 325.3h6.6l-3.3 5.4zM213.9 152.9h6.6l-3.3 5.4zM211.6 122.4h6.6l-3.3 5.4zM215.1 211.4h6.6l-3.3 5.4zM219.0 113.4h6.6l-3.3 5.4zM209.0 115.3h6.6l-3.3 5.4zM215.0 173.8h6.6l-3.3 5.4zM213.9 280.2h6.6l-3.3 5.4zM214.8 115.4h6.6l-3.3 5.4zM212.0 116.3h6.6l-3.3 5.4zM215.6 315.0h6.6l-3.3 5.4zM213.8 319.9h6.6l-3.3 5.4zM213.8 120.2h6.6l-3.3 5.4zM214.1 320.0h6.6l-3.3 5.4zM214.9 332.7h6.6l-3.3 5.4zM213.9 333.9h6.6l-3.3 5.4zM215.3 297.1h6.6l-3.3 5.4zM213.8 302.9h6.6l-3.3 5.4zM210.0 115.4h6.6l-3.3 5.4zM215.7 122.1h6.6l-3.3 5.4zM215.4 304.4h6.6l-3.3 5.4zM214.8 288.0h6.6l-3.3 5.4zM214.8 187.4h6.6l-3.3 5.4zM215.4 124.5h6.6l-3.3 5.4zM214.0 290.9h6.6l-3.3 5.4zM214.9 310.3h6.6l-3.3 5.4zM214.9 132.9h6.6l-3.3 5.4zM214.5 211.6h6.6l-3.3 5.4zM207.0 112.7h6.6l-3.3 5.4zM214.7 127.4h6.6l-3.3 5.4zM214.5 301.2h6.6l-3.3 5.4zM214.5 285.8h6.6l-3.3 5.4zM214.2 290.6h6.6l-3.3 5.4zM214.9 261.5h6.6l-3.3 5.4zM219.5 118.7h6.6l-3.3 5.4zM214.7 279.6h6.6l-3.3 5.4zM215.3 275.1h6.6l-3.3 5.4zM212.6 121.0h6.6l-3.3 5.4z" fill="none" stroke="#474747" stroke-width="1.1"/>
<rect x="241.54" y="151.8" width="23.8" height="3" fill="#000"/>
<line x1="253.4" y1="114.7" x2="253.4" y2="338.5" stroke="#111" stroke-width="1"/>
<path d="M249.3 133.7h6.6l-3.3 5.4zM246.3 120.7h6.6l-3.3 5.4zM249.6 121.4h6.6l-3.3 5.4zM252.2 123.8h6.6l-3.3 5.4zM248.2 127.9h6.6l-3.3 5.4zM247.7 124.6h6.6l-3.3 5.4zM256.6 113.4h6.6l-3.3 5.4zM247.9 112.3h6.6l-3.3 5.4zM248.3 118.4h6.6l-3.3 5.4zM251.4 123.3h6.6l-3.3 5.4zM251.0 125.4h6.6l-3.3 5.4zM249.9 120.5h6.6l-3.3 5.4zM248.8 123.3h6.6l-3.3 5.4zM249.5 123.6h6.6l-3.3 5.4zM247.3 117.0h6.6l-3.3 5.4zM247.5 114.8h6.6l-3.3 5.4zM250.3 167.8h6.6l-3.3 5.4zM242.2 112.6h6.6l-3.3 5.4zM249.9 275.1h6.6l-3.3 5.4zM250.0 241.2h6.6l-3.3 5.4zM250.1 214.5h6.6l-3.3 5.4zM249.7 298.1h6.6l-3.3 5.4zM252.8 116.6h6.6l-3.3 5.4zM250.0 325.5h6.6l-3.3 5.4zM253.6 121.7h6.6l-3.3 5.4zM249.4 289.6h6.6l-3.3 5.4zM258.7 112.6h6.6l-3.3 5.4zM251.1 131.4h6.6l-3.3 5.4zM252.4 115.1h6.6l-3.3 5.4zM247.7 115.3h6.6l-3.3 5.4zM251.0 293.3h6.6l-3.3 5.4zM253.3 113.5h6.6l-3.3 5.4zM245.5 119.3h6.6l-3.3 5.4zM251.0 115.1h6.6l-3.3 5.4zM244.3 114.6h6.6l-3.3 5.4zM250.5 308.9h6.6l-3.3 5.4zM249.2 119.0h6.6l-3.3 5.4zM250.4 150.2h6.6l-3.3 5.4zM254.7 118.7h6.6l-3.3 5.4zM242.6 113.1h6.6l-3.3 5.4zM250.0 220.2h6.6l-3.3 5.4zM252.6 120.9h6.6l-3.3 5.4zM250.7 121.1h6.6l-3.3 5.4zM254.2 114.4h6.6l-3.3 5.4zM251.4 114.1h6.6l-3.3 5.4zM249.6 125.6h6.6l-3.3 5.4zM249.0 130.2h6.6l-3.3 5.4zM252.5 124.9h6.6l-3.3 5.4zM250.9 286.3h6.6l-3.3 5.4zM250.2 129.5h6.6l-3.3 5.4zM247.5 114.1h6.6l-3.3 5.4zM244.8 112.8h6.6l-3.3 5.4zM250.0 222.6h6.6l-3.3 5.4zM244.0 113.3h6.6l-3.3 5.4zM250.6 318.4h6.6l-3.3 5.4zM253.2 120.3h6.6l-3.3 5.4zM250.5 129.9h6.6l-3.3 5.4zM255.4 118.1h6.6l-3.3 5.4zM249.2 124.3h6.6l-3.3 5.4zM250.2 229.8h6.6l-3.3 5.4zM250.5 124.4h6.6l-3.3 5.4zM249.3 305.9h6.6l-3.3 5.4zM249.8 116.1h6.6l-3.3 5.4zM253.3 119.6h6.6l-3.3 5.4zM248.9 114.1h6.6l-3.3 5.4zM254.0 121.2h6.6l-3.3 5.4zM251.0 299.2h6.6l-3.3 5.4zM251.5 117.5h6.6l-3.3 5.4zM255.2 115.1h6.6l-3.3 5.4zM252.1 112.3h6.6l-3.3 5.4zM248.4 120.5h6.6l-3.3 5.4zM251.3 116.5h6.6l-3.3 5.4zM251.7 122.3h6.6l-3.3 5.4zM250.2 270.1h6.6l-3.3 5.4zM249.8 297.5h6.6l-3.3 5.4zM255.1 113.3h6.6l-3.3 5.4zM249.0 129.1h6.6l-3.3 5.4zM249.2 118.4h6.6l-3.3 5.4zM253.0 122.8h6.6l-3.3 5.4zM251.5 129.2h6.6l-3.3 5.4zM250.4 208.8h6.6l-3.3 5.4zM248.7 116.1h6.6l-3.3 5.4zM251.1 317.3h6.6l-3.3 5.4zM253.1 122.4h6.6l-3.3 5.4zM249.1 112.6h6.6l-3.3 5.4zM249.8 126.5h6.6l-3.3 5.4zM247.2 116.2h6.6l-3.3 5.4zM249.3 114.6h6.6l-3.3 5.4zM245.3 113.4h6.6l-3.3 5.4zM243.4 116.0h6.6l-3.3 5.4zM250.4 301.2h6.6l-3.3 5.4zM250.4 126.0h6.6l-3.3 5.4zM250.3 160.4h6.6l-3.3 5.4zM246.5 119.1h6.6l-3.3 5.4zM246.0 120.0h6.6l-3.3 5.4zM248.0 125.8h6.6l-3.3 5.4zM248.1 120.8h6.6l-3.3 5.4zM251.0 127.3h6.6l-3.3 5.4zM250.3 173.5h6.6l-3.3 5.4zM249.9 313.3h6.6l-3.3 5.4zM249.8 289.7h6.6l-3.3 5.4zM250.2 131.4h6.6l-3.3 5.4zM250.4 134.5h6.6l-3.3 5.4zM250.1 122.5h6.6l-3.3 5.4zM250.2 267.2h6.6l-3.3 5.4zM250.4 185.7h6.6l-3.3 5.4zM251.0 322.3h6.6l-3.3 5.4zM252.4 125.8h6.6l-3.3 5.4zM249.1 128.7h6.6l-3.3 5.4zM251.0 121.5h6.6l-3.3 5.4zM250.4 333.6h6.6l-3.3 5.4zM250.1 311.4h6.6l-3.3 5.4zM249.8 308.3h6.6l-3.3 5.4zM257.1 112.6h6.6l-3.3 5.4zM253.3 113.8h6.6l-3.3 5.4zM251.5 127.1h6.6l-3.3 5.4zM251.9 120.2h6.6l-3.3 5.4zM252.1 117.9h6.6l-3.3 5.4zM251.1 320.4h6.6l-3.3 5.4zM244.8 115.2h6.6l-3.3 5.4zM251.7 126.6h6.6l-3.3 5.4zM251.8 127.8h6.6l-3.3 5.4zM257.3 115.3h6.6l-3.3 5.4zM246.3 118.4h6.6l-3.3 5.4zM251.0 118.2h6.6l-3.3 5.4zM246.2 112.4h6.6l-3.3 5.4zM249.4 133.0h6.6l-3.3 5.4zM250.5 282.6h6.6l-3.3 5.4zM246.7 115.1h6.6l-3.3 5.4zM250.2 175.0h6.6l-3.3 5.4zM250.2 128.1h6.6l-3.3 5.4zM250.1 324.0h6.6l-3.3 5.4zM251.0 112.8h6.6l-3.3 5.4zM252.2 121.7h6.6l-3.3 5.4zM249.9 128.9h6.6l-3.3 5.4zM250.9 114.5h6.6l-3.3 5.4zM243.8 116.6h6.6l-3.3 5.4zM250.2 247.8h6.6l-3.3 5.4zM251.3 129.8h6.6l-3.3 5.4zM253.4 115.9h6.6l-3.3 5.4zM248.6 119.8h6.6l-3.3 5.4zM251.4 130.6h6.6l-3.3 5.4zM252.3 118.7h6.6l-3.3 5.4zM250.3 141.6h6.6l-3.3 5.4zM249.9 123.2h6.6l-3.3 5.4zM251.1 126.3h6.6l-3.3 5.4zM249.5 115.2h6.6l-3.3 5.4zM248.7 117.2h6.6l-3.3 5.4zM250.0 169.9h6.6l-3.3 5.4zM249.8 204.4h6.6l-3.3 5.4zM246.6 121.5h6.6l-3.3 5.4zM251.1 119.0h6.6l-3.3 5.4zM248.1 118.7h6.6l-3.3 5.4zM249.8 297.8h6.6l-3.3 5.4zM248.3 116.7h6.6l-3.3 5.4zM255.3 116.1h6.6l-3.3 5.4zM249.9 146.0h6.6l-3.3 5.4zM254.4 113.9h6.6l-3.3 5.4zM257.7 113.8h6.6l-3.3 5.4zM248.4 122.6h6.6l-3.3 5.4zM249.3 302.0h6.6l-3.3 5.4zM250.5 119.3h6.6l-3.3 5.4zM244.6 117.5h6.6l-3.3 5.4zM250.8 297.6h6.6l-3.3 5.4zM245.4 116.8h6.6l-3.3 5.4zM256.7 115.8h6.6l-3.3 5.4zM249.3 312.1h6.6l-3.3 5.4zM243.5 115.4h6.6l-3.3 5.4zM249.7 120.8h6.6l-3.3 5.4zM250.6 133.0h6.6l-3.3 5.4zM248.3 127.5h6.6l-3.3 5.4zM249.1 125.1h6.6l-3.3 5.4zM250.1 336.1h6.6l-3.3 5.4zM250.3 116.7h6.6l-3.3 5.4zM246.9 119.3h6.6l-3.3 5.4zM250.6 295.4h6.6l-3.3 5.4zM247.2 117.4h6.6l-3.3 5.4zM249.8 290.1h6.6l-3.3 5.4zM249.3 286.4h6.6l-3.3 5.4zM247.5 120.4h6.6l-3.3 5.4zM248.6 126.7h6.6l-3.3 5.4zM251.7 128.8h6.6l-3.3 5.4zM249.4 132.1h6.6l-3.3 5.4zM253.4 118.8h6.6l-3.3 5.4zM254.4 117.0h6.6l-3.3 5.4zM242.7 113.7h6.6l-3.3 5.4zM250.2 211.6h6.6l-3.3 5.4zM245.2 116.2h6.6l-3.3 5.4zM248.2 123.9h6.6l-3.3 5.4zM249.8 130.7h6.6l-3.3 5.4zM254.2 118.0h6.6l-3.3 5.4zM248.7 113.2h6.6l-3.3 5.4zM250.1 176.4h6.6l-3.3 5.4zM250.9 133.4h6.6l-3.3 5.4zM250.1 206.6h6.6l-3.3 5.4zM255.1 112.4h6.6l-3.3 5.4zM256.3 116.5h6.6l-3.3 5.4zM256.3 114.1h6.6l-3.3 5.4zM249.5 314.2h6.6l-3.3 5.4zM249.9 127.4h6.6l-3.3 5.4zM247.8 121.8h6.6l-3.3 5.4zM248.9 130.7h6.6l-3.3 5.4zM250.4 117.2h6.6l-3.3 5.4zM244.4 114.1h6.6l-3.3 5.4zM250.7 131.9h6.6l-3.3 5.4zM251.6 115.9h6.6l-3.3 5.4zM249.5 304.7h6.6l-3.3 5.4zM249.0 131.2h6.6l-3.3 5.4zM249.8 282.4h6.6l-3.3 5.4zM257.9 113.1h6.6l-3.3 5.4zM245.2 118.8h6.6l-3.3 5.4zM250.2 113.8h6.6l-3.3 5.4zM247.2 113.3h6.6l-3.3 5.4zM250.3 289.6h6.6l-3.3 5.4zM248.1 125.0h6.6l-3.3 5.4zM255.9 117.6h6.6l-3.3 5.4zM246.2 114.4h6.6l-3.3 5.4zM250.2 258.6h6.6l-3.3 5.4zM254.5 117.5h6.6l-3.3 5.4zM250.2 278.6h6.6l-3.3 5.4zM247.1 122.5h6.6l-3.3 5.4zM247.5 123.1h6.6l-3.3 5.4zM249.9 264.2h6.6l-3.3 5.4zM250.9 301.6h6.6l-3.3 5.4zM252.9 117.4h6.6l-3.3 5.4zM251.2 123.8h6.6l-3.3 5.4zM249.9 217.4h6.6l-3.3 5.4zM250.2 156.1h6.6l-3.3 5.4zM250.4 113.2h6.6l-3.3 5.4zM243.6 112.5h6.6l-3.3 5.4zM246.2 117.3h6.6l-3.3 5.4zM254.1 112.8h6.6l-3.3 5.4zM250.4 227.6h6.6l-3.3 5.4zM245.7 113.8h6.6l-3.3 5.4zM254.6 119.4h6.6l-3.3 5.4zM250.0 304.5h6.6l-3.3 5.4zM252.9 114.9h6.6l-3.3 5.4zM250.0 309.8h6.6l-3.3 5.4zM250.4 165.6h6.6l-3.3 5.4zM251.8 113.3h6.6l-3.3 5.4zM251.7 119.3h6.6l-3.3 5.4zM250.4 245.6h6.6l-3.3 5.4zM255.9 114.8h6.6l-3.3 5.4zM250.3 281.7h6.6l-3.3 5.4zM249.7 305.3h6.6l-3.3 5.4zM250.3 164.0h6.6l-3.3 5.4zM257.2 114.4h6.6l-3.3 5.4zM243.1 114.4h6.6l-3.3 5.4zM252.4 124.5h6.6l-3.3 5.4zM250.1 311.9h6.6l-3.3 5.4zM249.7 134.1h6.6l-3.3 5.4zM250.2 307.6h6.6l-3.3 5.4zM249.8 322.8h6.6l-3.3 5.4zM251.1 320.1h6.6l-3.3 5.4zM250.1 329.9h6.6l-3.3 5.4zM254.1 120.4h6.6l-3.3 5.4zM253.8 115.5h6.6l-3.3 5.4zM250.0 256.4h6.6l-3.3 5.4zM245.2 118.1h6.6l-3.3 5.4z" fill="none" stroke="#474747" stroke-width="1.1"/>
<rect x="277.00" y="176.2" width="23.8" height="3" fill="#000"/>
<line x1="289.0" y1="114.7" x2="289.0" y2="338.6" stroke="#111" stroke-width="1"/>
<path d="M288.4 121.3h6.6l-3.3 5.4zM284.9 314.6h6.6l-3.3 5.4zM277.9 114.3h6.6l-3.3 5.4zM285.4 257.1h6.6l-3.3 5.4zM287.6 114.6h6.6l-3.3 5.4zM280.4 114.6h6.6l-3.3 5.4zM285.8 237.7h6.6l-3.3 5.4zM285.7 192.2h6.6l-3.3 5.4zM285.6 120.9h6.6l-3.3 5.4zM289.4 113.3h6.6l-3.3 5.4zM279.8 113.7h6.6l-3.3 5.4zM291.3 115.5h6.6l-3.3 5.4zM283.7 114.6h6.6l-3.3 5.4zM281.8 120.5h6.6l-3.3 5.4zM286.5 117.0h6.6l-3.3 5.4zM285.8 259.2h6.6l-3.3 5.4zM281.5 112.6h6.6l-3.3 5.4zM284.3 124.5h6.6l-3.3 5.4zM285.6 134.5h6.6l-3.3 5.4zM290.8 118.9h6.6l-3.3 5.4zM281.4 118.0h6.6l-3.3 5.4zM288.8 120.8h6.6l-3.3 5.4zM293.0 113.3h6.6l-3.3 5.4zM285.3 126.3h6.6l-3.3 5.4zM284.0 118.9h6.6l-3.3 5.4zM285.7 123.6h6.6l-3.3 5.4zM291.6 117.7h6.6l-3.3 5.4zM283.8 113.6h6.6l-3.3 5.4zM288.2 331.1h6.6l-3.3 5.4zM285.8 115.4h6.6l-3.3 5.4zM285.9 117.7h6.6l-3.3 5.4zM286.1 293.6h6.6l-3.3 5.4zM282.8 112.3h6.6l-3.3 5.4zM285.7 113.4h6.6l-3.3 5.4zM291.5 112.6h6.6l-3.3 5.4zM291.6 114.3h6.6l-3.3 5.4zM285.4 287.6h6.6l-3.3 5.4zM282.9 121.7h6.6l-3.3 5.4zM289.1 114.6h6.6l-3.3 5.4zM284.7 112.3h6.6l-3.3 5.4zM285.8 253.5h6.6l-3.3 5.4zM279.8 118.1h6.6l-3.3 5.4zM288.3 120.0h6.6l-3.3 5.4zM286.0 281.6h6.6l-3.3 5.4zM287.2 120.5h6.6l-3.3 5.4zM285.6 124.3h6.6l-3.3 5.4zM282.4 118.8h6.6l-3.3 5.4zM286.4 127.8h6.6l-3.3 5.4zM286.1 317.6h6.6l-3.3 5.4zM285.8 183.6h6.6l-3.3 5.4zM285.5 225.5h6.6l-3.3 5.4zM285.8 150.2h6.6l-3.3 5.4zM287.3 118.2h6.6l-3.3 5.4zM289.6 119.9h6.6l-3.3 5.4zM284.3 126.2h6.6l-3.3 5.4zM285.4 125.2h6.6l-3.3 5.4zM284.8 122.7h6.6l-3.3 5.4zM286.3 120.0h6.6l-3.3 5.4zM284.0 279.4h6.6l-3.3 5.4zM287.2 296.6h6.6l-3.3 5.4zM286.8 126.9h6.6l-3.3 5.4zM285.7 176.4h6.6l-3.3 5.4zM283.7 118.0h6.6l-3.3 5.4zM280.9 119.1h6.6l-3.3 5.4zM285.7 164.0h6.6l-3.3 5.4zM281.8 113.4h6.6l-3.3 5.4zM284.9 129.0h6.6l-3.3 5.4zM284.7 121.3h6.6l-3.3 5.4zM292.3 116.9h6.6l-3.3 5.4zM278.3 115.2h6.6l-3.3 5.4zM285.8 198.7h6.6l-3.3 5.4zM285.8 302.6h6.6l-3.3 5.4zM290.3 112.8h6.6l-3.3 5.4zM284.4 116.3h6.6l-3.3 5.4zM280.7 116.2h6.6l-3.3 5.4zM284.2 125.2h6.6l-3.3 5.4zM285.7 210.2h6.6l-3.3 5.4zM284.0 120.7h6.6l-3.3 5.4zM281.8 119.5h6.6l-3.3 5.4zM285.4 114.5h6.6l-3.3 5.4zM284.8 117.1h6.6l-3.3 5.4zM290.4 116.8h6.6l-3.3 5.4zM286.2 325.9h6.6l-3.3 5.4zM284.4 127.1h6.6l-3.3 5.4zM288.6 336.0h6.6l-3.3 5.4zM285.5 255.0h6.6l-3.3 5.4zM288.2 117.1h6.6l-3.3 5.4zM285.4 165.6h6.6l-3.3 5.4zM286.5 121.4h6.6l-3.3 5.4zM286.6 112.5h6.6l-3.3 5.4zM286.5 126.1h6.6l-3.3 5.4zM290.2 116.0h6.6l-3.3 5.4zM285.9 119.0h6.6l-3.3 5.4zM283.6 334.9h6.6l-3.3 5.4zM283.7 334.3h6.6l-3.3 5.4zM281.8 115.5h6.6l-3.3 5.4zM280.1 115.5h6.6l-3.3 5.4zM289.9 117.7h6.6l-3.3 5.4zM284.7 119.5h6.6l-3.3 5.4zM278.7 116.0h6.6l-3.3 5.4zM286.9 116.2h6.6l-3.3 5.4zM285.8 207.2h6.6l-3.3 5.4zM283.7 115.5h6.6l-3.3 5.4zM288.5 116.1h6.6l-3.3 5.4zM281.7 114.2h6.6l-3.3 5.4zM291.8 113.2h6.6l-3.3 5.4zM283.0 116.4h6.6l-3.3 5.4zM292.3 116.2h6.6l-3.3 5.4zM293.4 114.5h6.6l-3.3 5.4zM282.6 117.3h6.6l-3.3 5.4zM285.5 226.9h6.6l-3.3 5.4zM286.4 336.1h6.6l-3.3 5.4zM285.7 155.4h6.6l-3.3 5.4zM286.8 308.6h6.6l-3.3 5.4zM286.9 290.6h6.6l-3.3 5.4zM285.8 172.8h6.6l-3.3 5.4zM285.4 138.8h6.6l-3.3 5.4zM287.8 122.2h6.6l-3.3 5.4zM286.2 331.6h6.6l-3.3 5.4zM292.8 115.5h6.6l-3.3 5.4zM285.8 145.2h6.6l-3.3 5.4zM286.3 284.6h6.6l-3.3 5.4zM286.2 299.6h6.6l-3.3 5.4zM289.2 115.2h6.6l-3.3 5.4zM285.7 223.9h6.6l-3.3 5.4zM286.8 125.0h6.6l-3.3 5.4zM278.2 113.3h6.6l-3.3 5.4zM286.2 122.3h6.6l-3.3 5.4zM288.7 118.7h6.6l-3.3 5.4zM293.4 112.3h6.6l-3.3 5.4zM287.6 119.1h6.6l-3.3 5.4zM281.3 116.9h6.6l-3.3 5.4zM283.3 122.3h6.6l-3.3 5.4zM284.3 305.6h6.6l-3.3 5.4zM286.3 128.6h6.6l-3.3 5.4zM283.0 120.0h6.6l-3.3 5.4zM287.1 124.2h6.6l-3.3 5.4zM287.2 115.4h6.6l-3.3 5.4zM284.9 128.1h6.6l-3.3 5.4zM287.6 123.4h6.6l-3.3 5.4zM283.7 123.4h6.6l-3.3 5.4zM279.3 112.4h6.6l-3.3 5.4zM284.4 311.6h6.6l-3.3 5.4zM287.7 113.4h6.6l-3.3 5.4zM288.2 335.9h6.6l-3.3 5.4zM279.2 117.0h6.6l-3.3 5.4zM286.8 329.8h6.6l-3.3 5.4zM277.8 112.8h6.6l-3.3 5.4zM288.1 112.4h6.6l-3.3 5.4z" fill="none" stroke="#474747" stroke-width="1.1"/>
<rect x="476.6" y="137.4" width="12" height="3" fill="#000"/>
<g fill="#fff" stroke="#1a1a1a" stroke-width="1.1"><circle cx="482.6" cy="266.3" r="3.4"/><circle cx="482.6" cy="138.3" r="3.4"/><circle cx="482.6" cy="163.4" r="3.4"/><circle cx="482.6" cy="145.9" r="3.4"/><circle cx="482.6" cy="309.6" r="3.4"/><circle cx="482.6" cy="257.9" r="3.4"/><circle cx="482.6" cy="226.5" r="3.4"/><circle cx="482.6" cy="222.4" r="3.4"/><circle cx="482.6" cy="217.2" r="3.4"/><circle cx="482.6" cy="249.0" r="3.4"/><circle cx="482.6" cy="284.4" r="3.4"/><circle cx="482.6" cy="317.1" r="3.4"/><circle cx="482.6" cy="245.1" r="3.4"/><circle cx="482.6" cy="179.9" r="3.4"/><circle cx="482.6" cy="201.6" r="3.4"/><circle cx="482.6" cy="325.5" r="3.4"/><circle cx="482.6" cy="254.0" r="3.4"/><circle cx="482.6" cy="214.4" r="3.4"/><circle cx="482.6" cy="304.5" r="3.4"/><circle cx="482.6" cy="262.5" r="3.4"/><circle cx="482.6" cy="154.0" r="3.4"/><circle cx="482.6" cy="271.1" r="3.4"/><circle cx="482.6" cy="183.7" r="3.4"/><circle cx="482.6" cy="129.7" r="3.4"/><circle cx="482.6" cy="133.4" r="3.4"/><circle cx="482.6" cy="288.5" r="3.4"/><circle cx="482.6" cy="149.8" r="3.4"/><circle cx="482.6" cy="171.0" r="3.4"/><circle cx="482.6" cy="175.6" r="3.4"/><circle cx="482.6" cy="141.5" r="3.4"/><circle cx="482.6" cy="158.8" r="3.4"/><circle cx="482.6" cy="192.4" r="3.4"/><circle cx="482.6" cy="209.3" r="3.4"/><circle cx="482.6" cy="121.0" r="3.4"/><circle cx="482.6" cy="278.8" r="3.4"/><circle cx="482.6" cy="167.6" r="3.4"/><circle cx="482.6" cy="313.6" r="3.4"/><circle cx="482.6" cy="188.8" r="3.4"/><circle cx="482.6" cy="241.5" r="3.4"/><circle cx="482.6" cy="204.7" r="3.4"/><circle cx="482.6" cy="335.1" r="3.4"/><circle cx="482.6" cy="124.6" r="3.4"/><circle cx="482.6" cy="276.6" r="3.4"/><circle cx="482.6" cy="196.1" r="3.4"/><circle cx="482.6" cy="320.8" r="3.4"/><circle cx="482.6" cy="237.0" r="3.4"/><circle cx="482.6" cy="300.5" r="3.4"/><circle cx="482.6" cy="111.3" r="3.4"/><circle cx="489.2" cy="111.4" r="3.4"/><circle cx="476.0" cy="112.0" r="3.4"/><circle cx="480.3" cy="112.0" r="3.4"/><circle cx="478.2" cy="112.1" r="3.4"/><circle cx="483.0" cy="112.3" r="3.4"/><circle cx="481.5" cy="112.4" r="3.4"/><circle cx="481.5" cy="112.8" r="3.4"/><circle cx="478.5" cy="112.8" r="3.4"/><circle cx="477.2" cy="113.6" r="3.4"/><circle cx="487.8" cy="113.9" r="3.4"/><circle cx="491.1" cy="114.0" r="3.4"/><circle cx="485.6" cy="114.0" r="3.4"/><circle cx="484.5" cy="114.1" r="3.4"/><circle cx="476.7" cy="114.3" r="3.4"/><circle cx="481.6" cy="114.5" r="3.4"/><circle cx="490.4" cy="114.5" r="3.4"/><circle cx="490.8" cy="114.5" r="3.4"/><circle cx="475.0" cy="115.4" r="3.4"/><circle cx="488.7" cy="115.4" r="3.4"/><circle cx="477.6" cy="115.5" r="3.4"/><circle cx="490.5" cy="116.1" r="3.4"/></g>
<rect x="512.1" y="128.6" width="12" height="3" fill="#000"/>
<g fill="#fff" stroke="#1a1a1a" stroke-width="1.1"><circle cx="518.1" cy="303.4" r="3.4"/><circle cx="518.1" cy="226.9" r="3.4"/><circle cx="518.1" cy="130.2" r="3.4"/><circle cx="518.1" cy="240.5" r="3.4"/><circle cx="518.1" cy="269.7" r="3.4"/><circle cx="518.1" cy="186.1" r="3.4"/><circle cx="518.1" cy="335.1" r="3.4"/><circle cx="518.1" cy="209.7" r="3.4"/><circle cx="518.1" cy="196.8" r="3.4"/><circle cx="518.1" cy="274.8" r="3.4"/><circle cx="518.1" cy="180.9" r="3.4"/><circle cx="518.1" cy="298.6" r="3.4"/><circle cx="518.1" cy="137.2" r="3.4"/><circle cx="518.1" cy="312.5" r="3.4"/><circle cx="518.1" cy="261.1" r="3.4"/><circle cx="518.1" cy="150.4" r="3.4"/><circle cx="518.1" cy="146.5" r="3.4"/><circle cx="518.1" cy="201.9" r="3.4"/><circle cx="518.1" cy="154.5" r="3.4"/><circle cx="518.1" cy="257.2" r="3.4"/><circle cx="518.1" cy="215.6" r="3.4"/><circle cx="518.1" cy="121.0" r="3.4"/><circle cx="518.1" cy="223.1" r="3.4"/><circle cx="518.1" cy="169.0" r="3.4"/><circle cx="518.1" cy="265.7" r="3.4"/><circle cx="518.1" cy="325.0" r="3.4"/><circle cx="518.1" cy="194.1" r="3.4"/><circle cx="518.1" cy="296.4" r="3.4"/><circle cx="518.1" cy="173.1" r="3.4"/><circle cx="518.1" cy="291.4" r="3.4"/><circle cx="518.1" cy="308.7" r="3.4"/><circle cx="518.1" cy="142.1" r="3.4"/><circle cx="518.1" cy="219.7" r="3.4"/><circle cx="518.1" cy="176.7" r="3.4"/><circle cx="518.1" cy="287.0" r="3.4"/><circle cx="518.1" cy="126.2" r="3.4"/><circle cx="518.1" cy="205.7" r="3.4"/><circle cx="518.1" cy="232.6" r="3.4"/><circle cx="518.1" cy="134.6" r="3.4"/><circle cx="518.1" cy="163.0" r="3.4"/><circle cx="518.1" cy="159.0" r="3.4"/><circle cx="518.1" cy="277.5" r="3.4"/><circle cx="518.1" cy="235.9" r="3.4"/><circle cx="518.1" cy="283.2" r="3.4"/><circle cx="518.1" cy="189.3" r="3.4"/><circle cx="518.1" cy="252.3" r="3.4"/><circle cx="518.1" cy="327.2" r="3.4"/><circle cx="518.1" cy="111.5" r="3.4"/><circle cx="524.7" cy="111.6" r="3.4"/><circle cx="511.5" cy="112.3" r="3.4"/><circle cx="523.3" cy="113.0" r="3.4"/><circle cx="513.9" cy="113.1" r="3.4"/><circle cx="510.3" cy="113.3" r="3.4"/><circle cx="511.9" cy="113.5" r="3.4"/><circle cx="516.8" cy="113.6" r="3.4"/><circle cx="521.6" cy="113.8" r="3.4"/><circle cx="511.9" cy="114.0" r="3.4"/><circle cx="516.6" cy="114.0" r="3.4"/><circle cx="520.4" cy="114.1" r="3.4"/><circle cx="512.8" cy="114.1" r="3.4"/><circle cx="520.6" cy="114.3" r="3.4"/><circle cx="520.7" cy="114.6" r="3.4"/><circle cx="513.2" cy="114.6" r="3.4"/><circle cx="525.0" cy="114.9" r="3.4"/><circle cx="526.1" cy="114.9" r="3.4"/><circle cx="525.7" cy="115.1" r="3.4"/><circle cx="513.2" cy="115.7" r="3.4"/></g>
<rect x="547.5" y="129.8" width="12" height="3" fill="#000"/>
<g fill="#fff" stroke="#1a1a1a" stroke-width="1.1"><circle cx="553.5" cy="283.6" r="3.4"/><circle cx="553.5" cy="194.4" r="3.4"/><circle cx="553.5" cy="273.4" r="3.4"/><circle cx="553.5" cy="159.2" r="3.4"/><circle cx="553.5" cy="209.6" r="3.4"/><circle cx="553.5" cy="214.9" r="3.4"/><circle cx="553.5" cy="299.5" r="3.4"/><circle cx="553.5" cy="241.0" r="3.4"/><circle cx="553.5" cy="253.7" r="3.4"/><circle cx="553.5" cy="189.4" r="3.4"/><circle cx="553.5" cy="217.9" r="3.4"/><circle cx="553.5" cy="262.4" r="3.4"/><circle cx="553.5" cy="335.1" r="3.4"/><circle cx="553.5" cy="185.5" r="3.4"/><circle cx="553.5" cy="269.8" r="3.4"/><circle cx="553.5" cy="138.8" r="3.4"/><circle cx="553.5" cy="207.1" r="3.4"/><circle cx="553.5" cy="248.7" r="3.4"/><circle cx="553.5" cy="129.0" r="3.4"/><circle cx="553.5" cy="264.8" r="3.4"/><circle cx="553.5" cy="232.2" r="3.4"/><circle cx="553.5" cy="278.2" r="3.4"/><circle cx="553.5" cy="304.9" r="3.4"/><circle cx="553.5" cy="325.5" r="3.4"/><circle cx="553.5" cy="147.6" r="3.4"/><circle cx="553.5" cy="180.9" r="3.4"/><circle cx="553.5" cy="172.1" r="3.4"/><circle cx="553.5" cy="320.7" r="3.4"/><circle cx="553.5" cy="316.6" r="3.4"/><circle cx="553.5" cy="121.0" r="3.4"/><circle cx="553.5" cy="313.3" r="3.4"/><circle cx="553.5" cy="202.5" r="3.4"/><circle cx="553.5" cy="133.7" r="3.4"/><circle cx="553.5" cy="154.8" r="3.4"/><circle cx="553.5" cy="168.7" r="3.4"/><circle cx="553.5" cy="295.1" r="3.4"/><circle cx="553.5" cy="256.7" r="3.4"/><circle cx="553.5" cy="150.2" r="3.4"/><circle cx="553.5" cy="291.3" r="3.4"/><circle cx="553.5" cy="125.9" r="3.4"/><circle cx="553.5" cy="143.3" r="3.4"/><circle cx="553.5" cy="198.7" r="3.4"/><circle cx="553.5" cy="288.2" r="3.4"/><circle cx="553.5" cy="227.8" r="3.4"/><circle cx="553.5" cy="175.9" r="3.4"/><circle cx="553.5" cy="222.7" r="3.4"/><circle cx="553.5" cy="307.8" r="3.4"/><circle cx="553.5" cy="244.0" r="3.4"/><circle cx="553.5" cy="163.6" r="3.4"/><circle cx="553.5" cy="236.8" r="3.4"/><circle cx="553.5" cy="111.4" r="3.4"/><circle cx="560.1" cy="111.7" r="3.4"/><circle cx="546.9" cy="112.0" r="3.4"/><circle cx="551.9" cy="112.0" r="3.4"/><circle cx="551.0" cy="112.2" r="3.4"/><circle cx="554.1" cy="112.6" r="3.4"/><circle cx="559.4" cy="112.6" r="3.4"/><circle cx="551.0" cy="112.9" r="3.4"/><circle cx="556.6" cy="112.9" r="3.4"/><circle cx="547.6" cy="113.1" r="3.4"/><circle cx="548.8" cy="113.4" r="3.4"/><circle cx="559.9" cy="113.6" r="3.4"/><circle cx="557.9" cy="113.6" r="3.4"/><circle cx="557.3" cy="113.7" r="3.4"/><circle cx="559.2" cy="113.8" r="3.4"/><circle cx="560.5" cy="114.0" r="3.4"/><circle cx="561.3" cy="114.3" r="3.4"/><circle cx="557.5" cy="114.6" r="3.4"/><circle cx="561.1" cy="114.9" r="3.4"/><circle cx="549.4" cy="115.0" r="3.4"/></g>
<rect x="583.0" y="126.3" width="12" height="3" fill="#000"/>
<g fill="#fff" stroke="#1a1a1a" stroke-width="1.1"><circle cx="589.0" cy="234.3" r="3.4"/><circle cx="589.0" cy="221.2" r="3.4"/><circle cx="589.0" cy="259.2" r="3.4"/><circle cx="589.0" cy="194.2" r="3.4"/><circle cx="589.0" cy="206.3" r="3.4"/><circle cx="589.0" cy="155.6" r="3.4"/><circle cx="589.0" cy="171.9" r="3.4"/><circle cx="589.0" cy="189.1" r="3.4"/><circle cx="589.0" cy="126.2" r="3.4"/><circle cx="589.0" cy="238.3" r="3.4"/><circle cx="589.0" cy="278.4" r="3.4"/><circle cx="589.0" cy="138.1" r="3.4"/><circle cx="589.0" cy="164.7" r="3.4"/><circle cx="589.0" cy="265.2" r="3.4"/><circle cx="589.0" cy="147.4" r="3.4"/><circle cx="589.0" cy="176.5" r="3.4"/><circle cx="589.0" cy="302.8" r="3.4"/><circle cx="589.0" cy="198.6" r="3.4"/><circle cx="589.0" cy="335.1" r="3.4"/><circle cx="589.0" cy="229.8" r="3.4"/><circle cx="589.0" cy="168.4" r="3.4"/><circle cx="589.0" cy="301.2" r="3.4"/><circle cx="589.0" cy="160.9" r="3.4"/><circle cx="589.0" cy="250.6" r="3.4"/><circle cx="589.0" cy="297.6" r="3.4"/><circle cx="589.0" cy="202.3" r="3.4"/><circle cx="589.0" cy="129.0" r="3.4"/><circle cx="589.0" cy="255.8" r="3.4"/><circle cx="589.0" cy="246.0" r="3.4"/><circle cx="589.0" cy="294.7" r="3.4"/><circle cx="589.0" cy="318.0" r="3.4"/><circle cx="589.0" cy="224.2" r="3.4"/><circle cx="589.0" cy="291.6" r="3.4"/><circle cx="589.0" cy="274.8" r="3.4"/><circle cx="589.0" cy="322.7" r="3.4"/><circle cx="589.0" cy="143.7" r="3.4"/><circle cx="589.0" cy="182.3" r="3.4"/><circle cx="589.0" cy="152.0" r="3.4"/><circle cx="589.0" cy="186.8" r="3.4"/><circle cx="589.0" cy="212.5" r="3.4"/><circle cx="589.0" cy="216.7" r="3.4"/><circle cx="589.0" cy="241.6" r="3.4"/><circle cx="589.0" cy="121.0" r="3.4"/><circle cx="589.0" cy="134.9" r="3.4"/><circle cx="589.0" cy="112.0" r="3.4"/><circle cx="595.6" cy="112.4" r="3.4"/><circle cx="582.4" cy="112.7" r="3.4"/><circle cx="589.7" cy="112.9" r="3.4"/><circle cx="591.7" cy="113.2" r="3.4"/><circle cx="595.3" cy="113.5" r="3.4"/><circle cx="585.7" cy="113.7" r="3.4"/><circle cx="597.3" cy="113.8" r="3.4"/><circle cx="593.4" cy="113.9" r="3.4"/><circle cx="596.5" cy="114.1" r="3.4"/><circle cx="584.6" cy="114.4" r="3.4"/><circle cx="589.8" cy="115.1" r="3.4"/><circle cx="588.1" cy="115.2" r="3.4"/><circle cx="597.2" cy="115.3" r="3.4"/><circle cx="594.5" cy="115.3" r="3.4"/><circle cx="583.0" cy="115.5" r="3.4"/><circle cx="596.3" cy="115.7" r="3.4"/><circle cx="586.5" cy="115.8" r="3.4"/><circle cx="588.5" cy="116.0" r="3.4"/><circle cx="581.0" cy="116.1" r="3.4"/></g>
<rect x="618.4" y="136.9" width="12" height="3" fill="#000"/>
<g fill="#fff" stroke="#1a1a1a" stroke-width="1.1"><circle cx="624.4" cy="239.0" r="3.4"/><circle cx="624.4" cy="125.7" r="3.4"/><circle cx="624.4" cy="134.3" r="3.4"/><circle cx="624.4" cy="282.0" r="3.4"/><circle cx="624.4" cy="247.6" r="3.4"/><circle cx="624.4" cy="140.0" r="3.4"/><circle cx="624.4" cy="316.8" r="3.4"/><circle cx="624.4" cy="151.0" r="3.4"/><circle cx="624.4" cy="305.2" r="3.4"/><circle cx="624.4" cy="299.2" r="3.4"/><circle cx="624.4" cy="192.6" r="3.4"/><circle cx="624.4" cy="326.0" r="3.4"/><circle cx="624.4" cy="214.2" r="3.4"/><circle cx="624.4" cy="155.8" r="3.4"/><circle cx="624.4" cy="251.0" r="3.4"/><circle cx="624.4" cy="130.3" r="3.4"/><circle cx="624.4" cy="280.6" r="3.4"/><circle cx="624.4" cy="121.0" r="3.4"/><circle cx="624.4" cy="171.7" r="3.4"/><circle cx="624.4" cy="320.0" r="3.4"/><circle cx="624.4" cy="268.3" r="3.4"/><circle cx="624.4" cy="256.3" r="3.4"/><circle cx="624.4" cy="160.8" r="3.4"/><circle cx="624.4" cy="223.9" r="3.4"/><circle cx="624.4" cy="208.8" r="3.4"/><circle cx="624.4" cy="274.2" r="3.4"/><circle cx="624.4" cy="335.1" r="3.4"/><circle cx="624.4" cy="166.5" r="3.4"/><circle cx="624.4" cy="202.3" r="3.4"/><circle cx="624.4" cy="188.3" r="3.4"/><circle cx="624.4" cy="323.3" r="3.4"/><circle cx="624.4" cy="177.0" r="3.4"/><circle cx="624.4" cy="111.2" r="3.4"/><circle cx="631.0" cy="111.3" r="3.4"/><circle cx="617.8" cy="111.4" r="3.4"/><circle cx="632.1" cy="111.4" r="3.4"/><circle cx="621.5" cy="111.6" r="3.4"/><circle cx="627.3" cy="111.7" r="3.4"/><circle cx="623.5" cy="112.1" r="3.4"/><circle cx="620.8" cy="112.2" r="3.4"/><circle cx="625.0" cy="112.7" r="3.4"/><circle cx="616.5" cy="112.8" r="3.4"/><circle cx="627.6" cy="112.9" r="3.4"/><circle cx="625.1" cy="113.8" r="3.4"/><circle cx="620.2" cy="114.3" r="3.4"/><circle cx="633.2" cy="114.5" r="3.4"/><circle cx="616.1" cy="114.7" r="3.4"/><circle cx="632.1" cy="114.9" r="3.4"/><circle cx="627.2" cy="115.8" r="3.4"/><circle cx="616.3" cy="115.8" r="3.4"/></g>
<rect x="653.9" y="123.1" width="12" height="3" fill="#000"/>
<g fill="#fff" stroke="#1a1a1a" stroke-width="1.1"><circle cx="659.9" cy="314.3" r="3.4"/><circle cx="659.9" cy="128.8" r="3.4"/><circle cx="659.9" cy="180.1" r="3.4"/><circle cx="659.9" cy="249.8" r="3.4"/><circle cx="659.9" cy="191.6" r="3.4"/><circle cx="659.9" cy="124.6" r="3.4"/><circle cx="659.9" cy="121.0" r="3.4"/><circle cx="659.9" cy="155.6" r="3.4"/><circle cx="659.9" cy="207.7" r="3.4"/><circle cx="659.9" cy="193.7" r="3.4"/><circle cx="659.9" cy="166.2" r="3.4"/><circle cx="659.9" cy="231.0" r="3.4"/><circle cx="659.9" cy="148.0" r="3.4"/><circle cx="659.9" cy="236.8" r="3.4"/><circle cx="659.9" cy="291.0" r="3.4"/><circle cx="659.9" cy="219.2" r="3.4"/><circle cx="659.9" cy="257.3" r="3.4"/><circle cx="659.9" cy="172.0" r="3.4"/><circle cx="659.9" cy="177.7" r="3.4"/><circle cx="659.9" cy="132.6" r="3.4"/><circle cx="659.9" cy="111.1" r="3.4"/><circle cx="666.5" cy="111.9" r="3.4"/><circle cx="653.2" cy="112.1" r="3.4"/><circle cx="666.3" cy="112.3" r="3.4"/><circle cx="664.6" cy="112.3" r="3.4"/><circle cx="663.3" cy="112.3" r="3.4"/><circle cx="667.9" cy="112.5" r="3.4"/><circle cx="658.6" cy="113.4" r="3.4"/><circle cx="651.7" cy="114.0" r="3.4"/><circle cx="656.6" cy="114.2" r="3.4"/><circle cx="655.4" cy="114.2" r="3.4"/><circle cx="654.1" cy="115.4" r="3.4"/><circle cx="658.1" cy="115.4" r="3.4"/><circle cx="664.2" cy="116.0" r="3.4"/></g>
</svg>
</body></html>
